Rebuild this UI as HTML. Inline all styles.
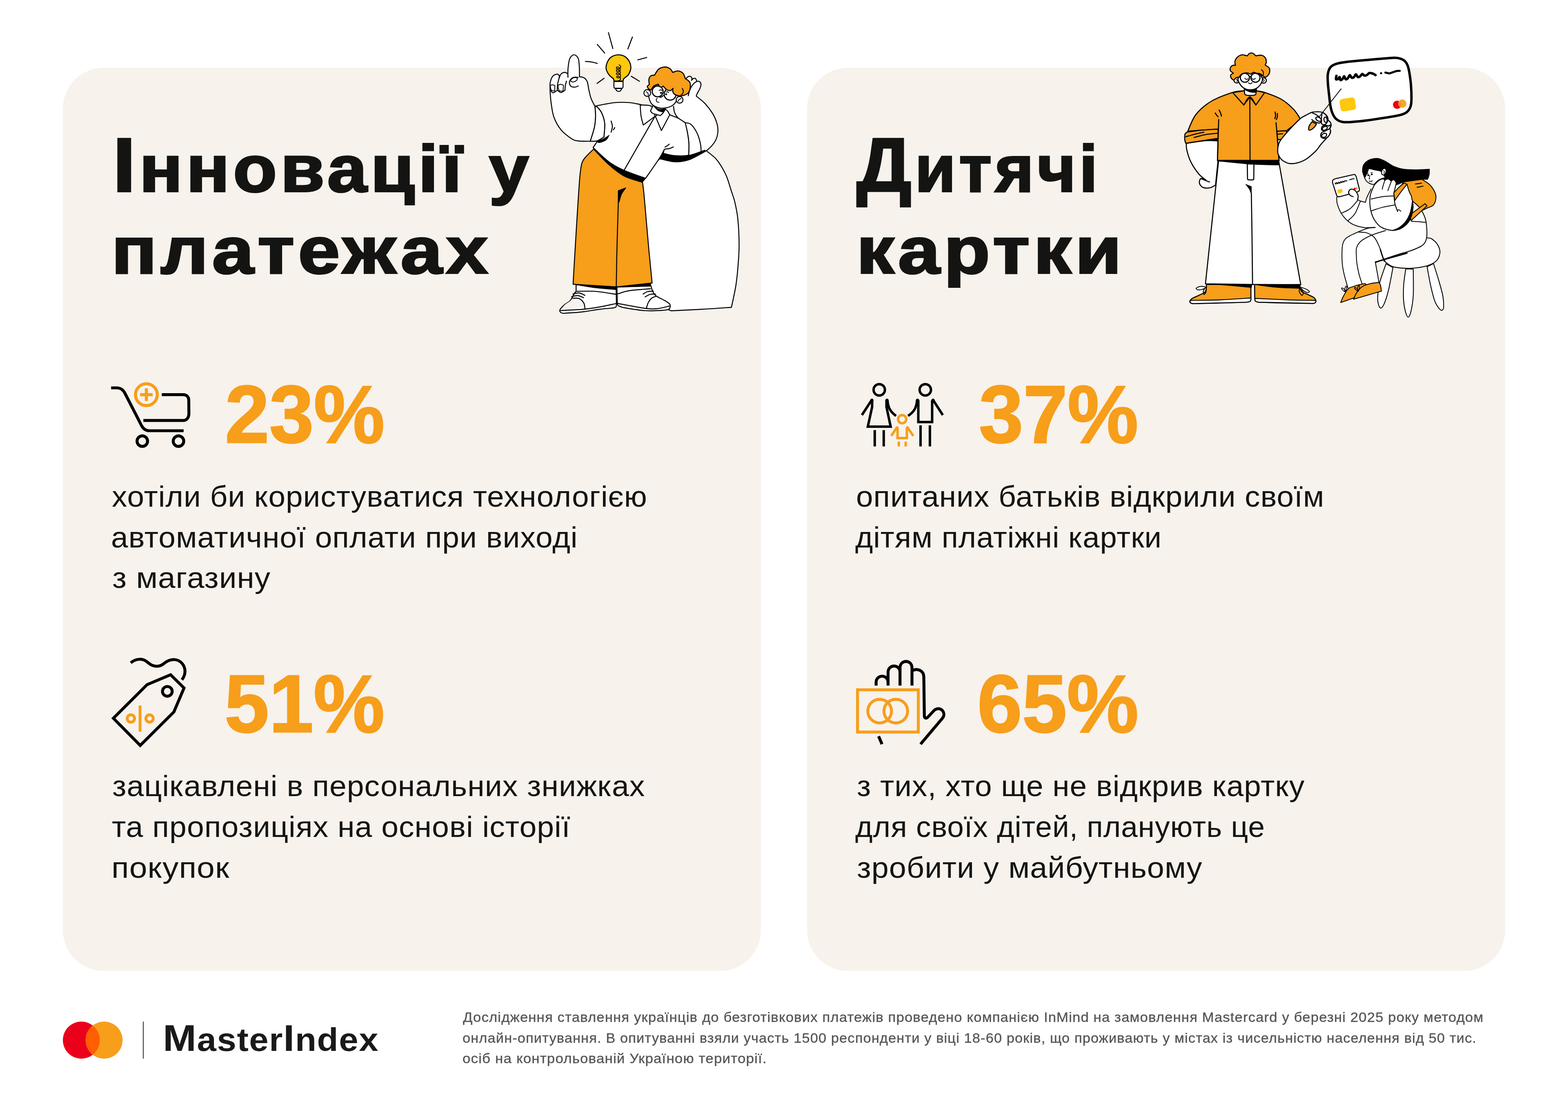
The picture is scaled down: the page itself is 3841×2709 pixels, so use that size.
<!DOCTYPE html>
<html lang="uk">
<head>
<meta charset="utf-8">
<title>MasterIndex — Інновації у платежах / Дитячі картки</title>
<style>
html,body{margin:0;padding:0;background:#fff;}
body{width:3841px;height:2709px;overflow:hidden;}
#page{position:relative;width:3841px;height:2709px;background:#fff;overflow:hidden;font-family:"Liberation Sans",sans-serif;}
.panel{position:absolute;top:166px;width:1710px;height:2212px;border-radius:100px;background:#f7f2ec;}
#p1{left:154px;}
#p2{left:1977px;}
.t{font-family:"Liberation Sans",sans-serif;position:absolute;white-space:nowrap;line-height:1;transform-origin:0 50%;color:#141413;margin:0;}
.h{font-weight:700;-webkit-text-stroke:4px #141413;paint-order:stroke fill;letter-spacing:8px;}
.hc::first-letter{font-size:1.16em;line-height:0;}
.n{font-weight:700;color:#f79e1b;-webkit-text-stroke:3px #f79e1b;}
.b{font-weight:400;letter-spacing:1px;}
.f{font-weight:400;color:#565656;letter-spacing:1.1px;-webkit-text-stroke:0.45px #565656;}
.m{font-weight:700;color:#1a1a19;letter-spacing:1.5px;}
.w{display:inline-block;}
.w::first-letter{font-size:1.155em;line-height:0;}
svg{position:absolute;overflow:visible;}

</style>
</head>
<body>
<div id="page">
<div class="panel" id="p1"></div>
<div class="panel" id="p2"></div>
<div class="t h hc" style="left:276.1px;top:331.7px;font-size:162px;transform:scaleX(1.0849);">Інновації у</div>
<div class="t h" style="left:273.3px;top:531.6px;font-size:162px;transform:scaleX(1.1368);">платежах</div>
<div class="t h hc" style="left:2098.0px;top:331.7px;font-size:162px;transform:scaleX(1.0076);">Дитячі</div>
<div class="t h" style="left:2097.7px;top:531.6px;font-size:162px;transform:scaleX(1.1433);">картки</div>
<div class="t n" style="left:550.9px;top:915.2px;font-size:200px;transform:scaleX(0.9776);">23%</div>
<div class="t n" style="left:550.1px;top:1623.8px;font-size:200px;transform:scaleX(0.9796);">51%</div>
<div class="t n" style="left:2398.4px;top:915.2px;font-size:200px;transform:scaleX(0.9759);">37%</div>
<div class="t n" style="left:2393.8px;top:1623.8px;font-size:200px;transform:scaleX(0.9872);">65%</div>
<div class="t b" style="left:274.0px;top:1179.2px;font-size:73px;transform:scaleX(1.0235);">хотіли би користуватися технологією</div>
<div class="t b" style="left:271.9px;top:1278.5px;font-size:73px;transform:scaleX(1.0262);">автоматичної оплати при виході</div>
<div class="t b" style="left:274.9px;top:1378.2px;font-size:73px;transform:scaleX(1.0477);">з магазину</div>
<div class="t b" style="left:274.7px;top:1888.2px;font-size:73px;transform:scaleX(1.0290);">зацікавлені в персональних знижках</div>
<div class="t b" style="left:274.0px;top:1987.7px;font-size:73px;transform:scaleX(1.0294);">та пропозиціях на основі історії</div>
<div class="t b" style="left:272.6px;top:2087.7px;font-size:73px;transform:scaleX(1.0782);">покупок</div>
<div class="t b" style="left:2096.7px;top:1179.2px;font-size:73px;transform:scaleX(1.0236);">опитаних батьків відкрили своїм</div>
<div class="t b" style="left:2095.0px;top:1278.5px;font-size:73px;transform:scaleX(1.0164);">дітям платіжні картки</div>
<div class="t b" style="left:2099.0px;top:1888.2px;font-size:73px;transform:scaleX(1.0234);">з тих, хто ще не відкрив картку</div>
<div class="t b" style="left:2095.0px;top:1987.7px;font-size:73px;transform:scaleX(0.9995);">для своїх дітей, планують це</div>
<div class="t b" style="left:2098.9px;top:2087.7px;font-size:73px;transform:scaleX(1.0353);">зробити у майбутньому</div>
<div class="t m" style="left:398.8px;top:2507.1px;font-size:79px;transform:scaleX(1.0774);"><span class="w">Master</span><span class="w">Index</span></div>
<div class="t f" style="left:1134.0px;top:2473.5px;font-size:34px;transform:scaleX(1.0211);">Дослідження ставлення українців до безготівкових платежів проведено компанією InMind на замовлення Mastercard у березні 2025 року методом</div>
<div class="t f" style="left:1133.0px;top:2524.5px;font-size:34px;transform:scaleX(1.0120);">онлайн-опитування. В опитуванні взяли участь 1500 респонденти у віці 18-60 років, що проживають у містах із чисельністю населення від 50 тис.</div>
<div class="t f" style="left:1133.0px;top:2575.4px;font-size:34px;transform:scaleX(1.0278);">осіб на контрольованій Україною території.</div>
<svg id="icons" width="3841" height="2709" viewBox="0 0 3841 2709" style="left:0;top:0">
<g fill="none" stroke="#000" stroke-width="7.2" stroke-linejoin="round">
<path d="M272.2,950.0L285.1,950.0C295.4,950.0 301.3,954.1 306.7,964.5L346.4,1041.8C350.9,1050.8 356.7,1055.0 366.3,1055.0L449.8,1055.0"/>
<path d="M396.3,966.7L448.5,966.7C457.2,966.7 462.4,972.5 462.4,980.6L462.7,1012.8C462.7,1023.1 457.2,1029.9 448.5,1029.9L351.2,1029.9"/>
<circle cx="348.6" cy="1080.5" r="12.9" />
<circle cx="437.2" cy="1080.5" r="12.9" />
</g>
<g fill="none" stroke="#f79e1b" stroke-width="7.6">
<circle cx="358.6" cy="966.7" r="26.7" />
<path d="M343.1,966.7L374.1,966.7M358.6,951.2L358.6,982.2"/>
</g>
<g fill="none" stroke="#000" stroke-width="7.2" stroke-linejoin="miter">
<path d="M417.9,1652.8L450.8,1685.1L426.0,1743.7L343.5,1825.9L277.7,1759.2L360.2,1677.0Z"/>
<circle cx="409.9" cy="1693.4" r="11.9" />
<path d="M320.3,1623.5C334.1,1611.9 350.2,1611.9 362.5,1622.9C373.4,1633.2 388.9,1635.1 400.5,1626.1C414.7,1613.2 434.0,1611.3 445.9,1624.8C455.9,1636.7 455.3,1652.8 445.6,1665.1"/>
</g>
<g fill="none" stroke="#f79e1b" stroke-width="7">
<circle cx="320.6" cy="1759.8" r="9.0" />
<circle cx="366.3" cy="1759.8" r="9.0" />
<path d="M343.1,1727.9L343.1,1792.1"/>
</g>
<g fill="none" stroke="#000" stroke-width="6" stroke-linejoin="miter">
<circle cx="2153.8" cy="954.8" r="13.9" />
<circle cx="2266.6" cy="954.8" r="13.9" />
<path d="M2136.4,980.6L2136.4,996.7L2125.8,1045.0L2181.8,1045.0L2171.5,996.7L2171.5,980.6"/>
<path d="M2134.8,980.6L2111.3,1016.7"/>
<path d="M2174.1,980.6C2175.4,999.9 2182.5,1009.6 2195.0,1018.6"/>
<path d="M2142.8,1053.4L2142.8,1093.4M2164.8,1053.4L2164.8,1093.4"/>
<path d="M2249.5,980.6L2249.5,1033.7L2283.4,1033.7L2283.4,980.6"/>
<path d="M2246.3,980.6C2245.0,999.9 2237.9,1009.6 2224.4,1018.6"/>
<path d="M2286.3,980.6L2309.5,1016.7"/>
<path d="M2255.0,1041.8L2255.0,1093.4M2277.9,1041.8L2277.9,1093.4"/>
</g>
<g fill="#000">
<circle cx="2135.8" cy="980.6" r="4.2" />
<circle cx="2172.8" cy="980.6" r="4.2" />
<circle cx="2247.6" cy="980.6" r="4.2" />
<circle cx="2285.6" cy="980.6" r="4.2" />
</g>
<g fill="none" stroke="#f79e1b" stroke-width="6" stroke-linejoin="miter">
<circle cx="2209.9" cy="1026.7" r="10.0" />
<path d="M2198.6,1047.6L2198.6,1073.1L2221.5,1073.1L2221.5,1047.6"/>
<path d="M2196.7,1047.6L2183.1,1067.6"/>
<path d="M2223.4,1047.6L2237.3,1067.6"/>
<path d="M2201.8,1081.8L2201.8,1093.4M2218.6,1081.8L2218.6,1093.4"/>
</g>
<g fill="#f79e1b">
<circle cx="2197.3" cy="1047.6" r="3.5" />
<circle cx="2222.8" cy="1047.6" r="3.5" />
</g>
<g fill="none" stroke="#000" stroke-width="7.2" stroke-linejoin="round">
<path d="M2146.1,1679.3L2146.1,1671.5C2146.1,1651.2 2175.4,1651.2 2175.4,1671.5L2175.4,1679.3M2175.4,1671.5L2175.4,1647.0C2175.4,1626.1 2204.7,1626.1 2204.7,1647.0L2204.7,1679.3M2204.7,1647.0L2204.7,1635.8C2204.7,1614.8 2234.0,1614.8 2234.0,1635.8L2234.0,1679.3M2234.0,1643.2C2247.6,1635.1 2263.0,1643.2 2263.0,1658.3L2264.3,1752.7C2264.3,1759.2 2268.5,1760.8 2272.7,1756.6L2286.3,1742.1C2294.3,1733.4 2304.0,1734.4 2309.5,1741.5C2313.6,1747.3 2312.7,1754.4 2308.2,1759.8L2255.0,1822.7"/>
<path d="M2152.2,1803.3L2160.6,1822.7"/>
</g>
<g fill="none" stroke="#f79e1b" stroke-width="7.2">
<rect x="2100.6" y="1689.6" width="148.9" height="103.4"/>
<circle cx="2154.8" cy="1741.8" r="29.0" />
<circle cx="2194.4" cy="1741.8" r="29.0" />
</g>
</svg>
<svg id="mc" width="3841" height="2709" viewBox="0 0 3841 2709" style="left:0;top:0">
<circle cx="199.3" cy="2547.6" r="45.3" fill="#eb001b"/>
<circle cx="255" cy="2547.6" r="45.3" fill="#f79e1b"/>
<path d="M227.15,2511.9 A45.3,45.3 0 0 1 227.15,2583.3 A45.3,45.3 0 0 1 227.15,2511.9Z" fill="#ff5f00"/>
<rect x="350" y="2502.3" width="1.8" height="90.6" fill="#1a1a19"/>
</svg>

<svg id="illu1" width="3841" height="2709" viewBox="0 0 3841 2709" style="left:0;top:0">
<path d="M1575.0,735.0L1644.0,761.2C1656.7,760.6 1695.4,758.9 1720.0,757.5C1744.6,756.1 1779.8,753.5 1791.7,752.7C1793.5,743.9 1799.8,717.1 1802.5,700.0C1805.2,682.9 1806.7,666.7 1808.0,650.0C1809.3,633.3 1810.6,618.9 1810.5,600.0C1810.4,581.1 1809.2,554.1 1807.4,536.6C1805.7,519.1 1802.7,506.6 1800.0,495.0C1797.3,483.4 1794.9,478.2 1791.2,467.0C1787.5,455.8 1784.0,440.7 1778.0,428.0C1772.0,415.3 1763.6,400.9 1755.5,391.0C1747.4,381.1 1733.9,372.6 1729.6,368.9L1680.0,378.0L1622.0,384.0L1550.0,445.0L1575.0,735.0Z" fill="#fff" stroke="#000" stroke-width="2.4" stroke-linecap="round" stroke-linejoin="round" />
<path d="M1677.1,198.8C1678.0,197.4 1680.2,192.4 1682.3,190.4C1684.4,188.4 1687.6,186.6 1689.7,186.7C1691.8,186.9 1694.2,189.6 1694.9,191.3C1695.6,193.0 1694.0,196.0 1693.8,196.9C1694.5,196.2 1696.4,193.4 1698.0,192.6C1699.7,191.9 1702.2,191.4 1703.6,192.3C1705.0,193.1 1705.9,196.9 1706.4,197.8C1705.5,200.9 1704.2,212.0 1700.8,216.4C1697.4,220.7 1688.5,222.5 1686.0,223.8Z" fill="#fff" stroke="#000" stroke-width="2.4" stroke-linecap="round" stroke-linejoin="round" />
<path d="M1686.0,234.5C1686.6,232.1 1687.9,224.6 1689.7,220.1C1691.6,215.6 1694.3,210.9 1697.1,207.5C1699.9,204.1 1703.6,200.9 1706.4,199.7C1709.2,198.4 1712.0,198.9 1713.8,200.0C1715.6,201.2 1717.0,204.0 1717.1,206.7C1717.3,209.4 1716.5,212.2 1714.7,216.4C1713.0,220.5 1708.2,228.3 1706.8,231.6C1705.3,234.8 1706.1,235.1 1706.0,235.8C1709.5,238.7 1720.2,246.5 1726.8,253.4C1733.3,260.4 1740.4,269.5 1745.3,277.5C1750.2,285.5 1753.8,294.2 1756.0,301.6C1758.3,309.0 1759.2,314.9 1758.6,322.0C1758.1,329.1 1756.5,337.1 1752.7,344.2C1748.9,351.3 1741.9,359.3 1736.0,364.6C1730.2,369.9 1720.6,374.3 1717.5,376.3L1687.9,381.3C1687.8,376.3 1688.2,361.2 1687.5,351.6C1686.8,342.1 1685.3,332.3 1683.8,323.8C1682.3,315.3 1679.5,304.5 1678.6,300.7C1675.7,298.7 1665.3,292.8 1661.0,288.6C1656.7,284.5 1654.5,280.3 1652.6,275.7C1650.8,271.0 1650.3,263.3 1649.9,260.8C1653.4,257.4 1665.2,244.8 1671.2,240.4C1677.2,236.1 1683.5,235.5 1686.0,234.5Z" fill="#fff" stroke="none" />
<path d="M1686.0,234.5C1686.6,232.1 1687.9,224.6 1689.7,220.1C1691.6,215.6 1694.3,210.9 1697.1,207.5C1699.9,204.1 1703.6,200.9 1706.4,199.7C1709.2,198.4 1712.0,198.9 1713.8,200.0C1715.6,201.2 1717.0,204.0 1717.1,206.7C1717.3,209.4 1716.5,212.2 1714.7,216.4C1713.0,220.5 1708.2,228.3 1706.8,231.6C1705.3,234.8 1706.1,235.1 1706.0,235.8C1709.5,238.7 1720.2,246.5 1726.8,253.4C1733.3,260.4 1740.4,269.5 1745.3,277.5C1750.2,285.5 1753.8,294.2 1756.0,301.6C1758.3,309.0 1759.2,314.9 1758.6,322.0C1758.1,329.1 1756.5,337.1 1752.7,344.2C1748.9,351.3 1741.9,359.3 1736.0,364.6C1730.2,369.9 1720.6,374.3 1717.5,376.3" fill="none" stroke="#000" stroke-width="2.4" stroke-linecap="round" stroke-linejoin="round" />
<path d="M1678.6,300.7C1675.7,298.7 1665.3,292.8 1661.0,288.6C1656.7,284.5 1654.5,280.3 1652.6,275.7C1650.8,271.0 1650.3,263.3 1649.9,260.8" fill="none" stroke="#000" stroke-width="2.4" stroke-linecap="round" stroke-linejoin="round" />
<path d="M1676.7,300.1C1677.9,304.1 1682.0,315.2 1683.8,323.8C1685.6,332.4 1687.0,342.2 1687.5,351.6C1688.0,361.0 1687.0,375.6 1686.9,380.3" fill="none" stroke="#000" stroke-width="2.4" stroke-linecap="round" stroke-linejoin="round" />
<path d="M1680.4,300.7C1682.6,301.4 1688.8,300.8 1693.4,305.3C1698.0,309.8 1704.5,319.5 1708.2,327.5C1712.0,335.6 1714.5,345.6 1716.0,353.5C1717.6,361.4 1717.3,371.2 1717.5,374.8" fill="none" stroke="#000" stroke-width="2.4" stroke-linecap="round" stroke-linejoin="round" />
<path d="M1411.2,697.2L1411.2,713.6C1410.7,714.2 1409.4,715.3 1407.9,717.5C1406.5,719.7 1404.7,723.4 1402.7,726.6C1400.8,729.9 1399.5,733.8 1396.2,737.1C1392.9,740.4 1386.9,743.1 1383.1,746.2C1379.3,749.4 1375.3,753.5 1373.3,756.0C1371.3,758.5 1371.0,759.7 1371.1,761.3C1371.2,762.9 1372.4,764.6 1373.7,765.6C1375.1,766.6 1378.3,767.1 1379.2,767.4C1383.6,767.1 1396.6,766.5 1405.3,765.8C1414.0,765.1 1420.6,764.6 1431.5,763.2C1442.4,761.8 1458.9,758.8 1470.7,757.3C1482.4,755.9 1496.8,754.8 1502.0,754.3C1503.1,754.0 1507.2,753.5 1508.6,752.1C1509.9,750.8 1509.9,747.2 1510.1,746.2L1509.2,703.1Z" fill="#fff" stroke="#000" stroke-width="2.4" stroke-linecap="round" stroke-linejoin="round" />
<path d="M1373.3,760.6C1375.0,758.3 1379.3,750.7 1383.1,746.9C1386.9,743.1 1392.9,740.5 1396.2,737.7C1399.5,735.0 1401.6,731.8 1402.7,730.6C1405.3,730.7 1413.8,729.3 1418.4,731.2C1423.0,733.2 1427.7,738.0 1430.2,742.3C1432.6,746.7 1432.6,754.8 1433.0,757.3C1428.4,757.8 1415.3,759.4 1405.3,760.0C1395.4,760.5 1378.7,760.5 1373.3,760.6Z" fill="#f7f2ec" stroke="none" />
<path d="M1372.7,760.3C1377.7,759.6 1392.7,757.7 1402.7,756.0C1412.8,754.3 1428.0,751.1 1433.0,750.2L1433.0,757.3C1428.4,757.8 1415.4,759.5 1405.3,760.0C1395.3,760.5 1378.1,760.3 1372.7,760.3Z" fill="#fff" stroke="none" />
<path d="M1402.7,730.6C1405.3,730.7 1413.8,729.3 1418.4,731.2C1423.0,733.2 1427.7,738.0 1430.2,742.3C1432.6,746.7 1432.6,754.8 1433.0,757.3" fill="none" stroke="#000" stroke-width="2.4" stroke-linecap="round" stroke-linejoin="round" />
<path d="M1411.2,713.6C1418.9,713.6 1441.4,712.4 1457.6,713.6C1473.8,714.8 1500.1,719.6 1508.6,720.8" fill="none" stroke="#000" stroke-width="2.4" stroke-linecap="round" stroke-linejoin="round" />
<path d="M1373.3,760.6C1383.0,760.1 1415.2,758.9 1431.5,757.3C1447.7,755.8 1457.8,753.8 1470.7,751.5C1483.5,749.2 1502.2,744.9 1508.6,743.6" fill="none" stroke="#000" stroke-width="2.4" stroke-linecap="round" stroke-linejoin="round" />
<path d="M1403.4,720.1C1405.9,719.7 1413.5,716.9 1418.4,717.5C1423.3,718.0 1430.4,722.4 1432.8,723.4" fill="none" stroke="#000" stroke-width="2.4" stroke-linecap="round" stroke-linejoin="round" />
<path d="M1400.1,726.6C1402.7,726.2 1410.9,723.6 1415.8,724.0C1420.7,724.5 1427.2,728.4 1429.5,729.3" fill="none" stroke="#000" stroke-width="2.4" stroke-linecap="round" stroke-linejoin="round" />
<path d="M1511.2,700.2L1512.2,744.3C1512.7,745.1 1511.9,747.6 1515.2,749.3C1518.6,750.9 1521.4,752.3 1532.3,754.3C1543.1,756.2 1565.7,759.9 1580.3,760.9C1595.0,761.9 1610.9,760.8 1620.4,760.3C1629.9,759.8 1633.9,759.2 1637.4,757.9C1641.0,756.5 1641.0,754.5 1641.5,752.3C1642.0,750.1 1642.6,747.3 1640.5,744.7C1638.3,742.0 1634.1,739.6 1628.4,736.2C1622.8,732.8 1611.4,728.2 1606.4,724.2C1601.4,720.2 1600.6,716.9 1598.4,712.2C1596.2,707.5 1594.2,698.8 1593.4,696.2L1511.2,700.2Z" fill="#fff" stroke="#000" stroke-width="2.4" stroke-linecap="round" stroke-linejoin="round" />
<path d="M1512.2,720.2C1516.9,718.9 1526.8,714.4 1540.3,712.2C1553.8,710.0 1584.5,708.0 1593.4,707.2" fill="none" stroke="#000" stroke-width="2.4" stroke-linecap="round" stroke-linejoin="round" />
<path d="M1513.2,743.2C1524.4,745.3 1564.2,753.2 1580.3,755.3C1596.5,757.4 1600.4,756.9 1610.4,755.9C1620.4,754.9 1635.4,750.4 1640.5,749.3" fill="none" stroke="#000" stroke-width="2.4" stroke-linecap="round" stroke-linejoin="round" />
<path d="M1583.4,754.7C1584.2,752.3 1586.2,744.3 1588.4,740.2C1590.5,736.2 1593.4,732.6 1596.4,730.2C1599.4,727.8 1604.7,726.6 1606.4,725.8" fill="none" stroke="#000" stroke-width="2.4" stroke-linecap="round" stroke-linejoin="round" />
<path d="M1575.3,720.2C1577.2,719.2 1582.2,715.4 1586.4,714.2C1590.5,713.0 1598.0,713.4 1600.4,713.2" fill="none" stroke="#000" stroke-width="2.4" stroke-linecap="round" stroke-linejoin="round" />
<path d="M1580.3,727.2C1582.4,726.2 1588.2,722.4 1592.4,721.2C1596.5,720.0 1603.2,720.4 1605.4,720.2" fill="none" stroke="#000" stroke-width="2.4" stroke-linecap="round" stroke-linejoin="round" />
<path d="M1454.1,365.2C1450.0,369.6 1434.8,382.3 1429.4,391.2C1424.1,400.0 1424.1,403.9 1422.0,418.4C1419.9,432.8 1418.9,451.3 1417.1,477.7C1415.2,504.0 1412.9,542.8 1410.9,576.5C1408.8,610.2 1405.8,660.1 1404.7,680.0C1403.6,699.9 1404.2,693.5 1404.0,696.2L1508.2,702.6L1510.6,702.6L1597.4,693.2C1595.9,677.6 1591.6,635.9 1588.4,600.0C1585.1,564.1 1580.3,504.6 1577.7,477.7C1575.0,450.7 1573.5,444.7 1572.7,438.1C1565.3,434.6 1541.8,424.1 1528.2,417.1C1514.7,410.1 1503.5,404.8 1491.2,396.1C1478.8,387.5 1460.3,370.4 1454.1,365.2Z" fill="#f79e1b" stroke="#000" stroke-width="2.4" stroke-linecap="round" stroke-linejoin="round" />
<path d="M1515.4,467.8C1515.1,477.7 1514.4,500.7 1513.7,527.1C1512.9,553.4 1511.6,596.7 1510.9,625.9C1510.3,655.1 1509.8,689.5 1509.6,702.2" fill="none" stroke="#000" stroke-width="2.4" stroke-linecap="round" stroke-linejoin="round" />
<path d="M1514.4,467.0L1533.2,459.9C1531.5,462.4 1525.6,469.3 1522.8,475.2C1520.0,481.0 1517.7,491.7 1516.6,494.9L1514.4,494.9Z" fill="#000" stroke="#000" stroke-width="1.5" stroke-linecap="round" stroke-linejoin="round" />
<path d="M1411.2,697.5L1508.8,702.1L1508.8,709.7C1500.3,708.9 1473.9,707.1 1457.6,705.1C1441.3,703.1 1418.9,698.8 1411.2,697.5Z" fill="#000" stroke="#000" stroke-width="1" stroke-linecap="round" stroke-linejoin="round" />
<path d="M1511.2,702.6L1592.8,694.6L1593.4,701.2L1511.2,703.8Z" fill="#000" stroke="#000" stroke-width="1" stroke-linecap="round" stroke-linejoin="round" />
<path d="M1454.1,365.2C1460.3,370.4 1478.8,387.5 1491.2,396.1C1503.5,404.8 1513.2,410.3 1528.2,417.1C1543.3,423.9 1572.5,433.6 1581.4,436.9L1573.2,447.0C1565.7,444.4 1541.9,438.5 1528.2,431.2C1514.6,424.0 1503.5,414.4 1491.2,403.5C1478.8,392.6 1460.3,372.0 1454.1,365.7Z" fill="#000" stroke="#000" stroke-width="1.5" stroke-linecap="round" stroke-linejoin="round" />
<path d="M1458.0,259.7C1465.9,258.4 1491.2,252.8 1505.3,251.4C1519.4,250.0 1531.9,250.6 1542.4,251.4C1552.9,252.2 1559.0,254.0 1568.3,256.0C1577.6,258.0 1593.0,262.2 1597.9,263.4L1640.6,281.2C1644.0,282.6 1654.7,286.3 1661.0,289.5C1667.3,292.8 1675.7,298.8 1678.6,300.7C1679.5,304.5 1682.3,315.3 1683.8,323.8C1685.3,332.3 1687.0,342.2 1687.5,351.6C1688.0,361.0 1687.0,375.6 1686.9,380.3L1651.8,387.5L1623.4,380.1L1627.1,366.5C1625.0,370.2 1622.3,377.0 1614.7,388.7C1607.1,400.4 1586.9,428.9 1581.4,436.9C1572.5,433.6 1543.3,423.9 1528.2,417.1C1513.2,410.3 1503.7,405.4 1491.2,396.1C1478.6,386.9 1459.3,367.3 1452.9,361.5L1462.7,346.8L1479.4,335.7C1479.7,330.2 1482.1,312.2 1481.2,302.4C1480.3,292.5 1476.9,283.2 1473.8,276.4C1470.7,269.6 1465.3,264.4 1462.7,261.6C1460.1,258.8 1458.8,260.0 1458.0,259.7Z" fill="#fff" stroke="#000" stroke-width="2.4" stroke-linecap="round" stroke-linejoin="round" />
<path d="M1624.6,375.1C1629.1,376.1 1641.1,380.0 1651.8,380.8C1662.5,381.6 1676.5,382.2 1688.8,380.1C1701.2,377.9 1719.7,369.8 1725.9,367.7L1729.1,370.2C1722.4,373.7 1701.7,386.8 1688.8,391.2C1675.9,395.6 1664.1,397.0 1651.8,396.6C1639.4,396.2 1620.9,390.0 1614.7,388.7L1624.6,375.1Z" fill="#000" stroke="#000" stroke-width="1.5" stroke-linecap="round" stroke-linejoin="round" />
<path d="M1604.5,284.9L1529.5,415.9" fill="none" stroke="#000" stroke-width="2.4" stroke-linecap="round" stroke-linejoin="round" />
<path d="M1629.0,360.3C1629.9,359.8 1632.7,358.3 1634.5,357.1C1636.2,355.9 1638.6,353.8 1639.4,353.1" fill="none" stroke="#000" stroke-width="2.4" stroke-linecap="round" stroke-linejoin="round" />
<path d="M1628.3,365.2C1630.2,365.0 1635.9,364.9 1639.4,364.0C1642.9,363.1 1647.7,360.5 1649.3,359.8" fill="none" stroke="#000" stroke-width="2.4" stroke-linecap="round" stroke-linejoin="round" />
<path d="M1497.0,296.4C1497.5,298.7 1500.1,305.2 1500.1,309.8C1500.1,314.3 1497.5,321.4 1497.0,323.7" fill="none" stroke="#000" stroke-width="2.4" stroke-linecap="round" stroke-linejoin="round" />
<path d="M1502.5,318.1L1505.9,312.6" fill="none" stroke="#000" stroke-width="2.4" stroke-linecap="round" stroke-linejoin="round" />
<path d="M1457.5,260.7C1455.9,257.4 1450.4,248.2 1447.9,241.2C1445.3,234.3 1443.8,225.8 1442.3,219.0C1440.8,212.2 1440.4,205.1 1438.6,200.4C1436.7,195.8 1434.4,192.9 1431.2,190.8C1428.0,188.7 1421.5,188.3 1419.5,187.8C1419.4,183.8 1419.7,170.9 1419.1,163.4C1418.6,155.9 1418.5,147.9 1416.4,143.0C1414.2,138.1 1409.6,134.1 1406.2,134.1C1402.8,134.1 1398.4,138.1 1396.0,143.0C1393.6,147.9 1392.7,157.1 1391.9,163.4C1391.1,169.7 1391.1,178.1 1391.0,181.0C1389.8,180.4 1386.6,177.3 1383.9,177.3C1381.2,177.3 1377.0,178.7 1374.7,181.0C1372.3,183.3 1370.5,189.5 1369.7,191.2L1370.0,184.7C1369.1,184.2 1367.3,181.1 1364.5,181.5C1361.7,182.0 1356.1,184.0 1353.4,187.5C1350.6,190.9 1348.8,198.0 1347.8,202.3C1346.8,206.6 1347.5,211.6 1347.4,213.4C1347.5,215.9 1347.3,221.1 1347.8,228.2C1348.3,235.3 1349.0,246.2 1350.6,256.0C1352.1,265.9 1353.2,277.3 1357.1,287.5C1360.9,297.7 1366.6,308.5 1373.7,317.2C1380.8,325.8 1392.6,334.7 1399.7,339.4C1406.8,344.1 1408.6,344.3 1416.4,345.3C1424.1,346.4 1441.1,345.8 1446.0,345.9C1447.7,340.2 1454.0,322.0 1456.2,311.6C1458.4,301.3 1458.8,292.3 1459.0,283.8C1459.2,275.3 1457.7,264.5 1457.5,260.7Z" fill="#fff" stroke="#000" stroke-width="2.4" stroke-linecap="round" stroke-linejoin="round" />
<path d="M1457.5,260.7C1457.7,264.5 1459.2,275.3 1459.0,283.8C1458.8,292.3 1458.4,301.3 1456.2,311.6C1454.0,322.0 1447.7,340.2 1446.0,345.9C1448.8,345.8 1457.1,346.7 1462.7,345.0C1468.2,343.3 1476.6,337.3 1479.4,335.7C1479.7,330.2 1482.1,312.2 1481.2,302.4C1480.3,292.5 1476.9,283.2 1473.8,276.4C1470.7,269.6 1464.5,264.1 1462.7,261.6L1457.5,260.7Z" fill="#fff" stroke="#000" stroke-width="2.4" stroke-linecap="round" stroke-linejoin="round" />
<path d="M1461.8,346.5C1464.4,345.4 1472.3,343.0 1477.5,340.3C1482.7,337.7 1490.2,332.2 1492.7,330.5C1491.4,332.6 1489.0,339.9 1484.9,343.1C1480.8,346.3 1472.1,349.1 1468.2,349.6C1464.4,350.2 1462.8,347.0 1461.8,346.5Z" fill="#000" stroke="#000" stroke-width="1" stroke-linecap="round" stroke-linejoin="round" />
<path d="M1391.0,180.1L1391.3,189.3" fill="none" stroke="#000" stroke-width="2.4" stroke-linecap="round" stroke-linejoin="round" />
<path d="M1369.7,191.2C1369.0,193.7 1366.7,201.1 1366.0,206.0C1365.2,210.9 1365.2,218.4 1365.0,220.8" fill="none" stroke="#000" stroke-width="2.4" stroke-linecap="round" stroke-linejoin="round" />
<path d="M1387.6,198.6C1387.2,200.4 1385.5,206.0 1384.9,209.7C1384.2,213.4 1384.1,219.0 1383.9,220.8" fill="none" stroke="#000" stroke-width="2.4" stroke-linecap="round" stroke-linejoin="round" />
<path d="M1347.8,209.7C1348.7,209.3 1351.4,207.5 1353.4,207.5C1355.3,207.5 1358.3,209.3 1359.3,209.7L1358.9,222.7C1357.5,222.4 1352.4,223.0 1350.6,220.8C1348.7,218.7 1348.3,211.6 1347.8,209.7Z" fill="#fff" stroke="#000" stroke-width="2" stroke-linecap="round" stroke-linejoin="round" />
<path d="M1366.7,208.8C1367.9,208.4 1371.5,206.6 1373.7,206.6C1376.0,206.6 1379.1,208.4 1380.2,208.8L1379.3,223.1C1377.7,222.8 1371.8,224.1 1369.7,221.8C1367.6,219.4 1367.2,210.9 1366.7,208.8Z" fill="#fff" stroke="#000" stroke-width="2" stroke-linecap="round" stroke-linejoin="round" />
<path d="M1347.8,219.9C1348.9,221.1 1351.7,226.9 1354.3,227.3C1356.9,227.7 1362.0,223.1 1363.5,222.3" fill="none" stroke="#000" stroke-width="2.4" stroke-linecap="round" stroke-linejoin="round" />
<path d="M1366.3,221.8C1367.7,222.6 1371.7,226.9 1374.7,226.8C1377.6,226.6 1382.4,221.8 1383.9,220.8" fill="none" stroke="#000" stroke-width="2.4" stroke-linecap="round" stroke-linejoin="round" />
<path d="M1416.4,189.7C1414.5,189.6 1408.5,188.3 1405.2,189.3C1402.0,190.3 1398.6,193.3 1396.9,195.8C1395.2,198.3 1394.6,201.5 1395.0,204.2C1395.5,206.8 1397.4,210.4 1399.7,211.9C1402.0,213.5 1406.2,213.6 1408.9,213.4C1411.7,213.2 1415.1,211.1 1416.4,210.6" fill="#fff" stroke="#000" stroke-width="2.4" stroke-linecap="round" stroke-linejoin="round" />
<ellipse cx="1406.2" cy="195.3" rx="8.5" ry="4.8" transform="rotate(-22 1406.2 195.3)" fill="#fff" stroke="#000" stroke-width="2"/>
<path d="M1568.3,257.1C1568.6,261.4 1569.0,274.9 1570.2,283.1C1571.4,291.2 1574.8,302.4 1575.8,306.2L1604.5,284.9C1603.2,280.9 1603.1,265.5 1597.1,260.8C1591.0,256.2 1573.1,257.7 1568.3,257.1Z" fill="#fff" stroke="#000" stroke-width="2.4" stroke-linecap="round" stroke-linejoin="round" />
<path d="M1605.4,284.9L1620.2,319.8L1640.6,281.2C1638.8,279.0 1635.4,267.6 1629.5,268.2C1623.6,268.9 1609.4,282.1 1605.4,284.9Z" fill="#fff" stroke="#000" stroke-width="2.4" stroke-linecap="round" stroke-linejoin="round" />
<path d="M1599.8,258.0L1593.4,271.9C1594.3,272.9 1594.9,275.7 1598.9,277.5C1602.9,279.4 1614.4,282.1 1617.4,283.1C1618.7,281.8 1622.8,278.4 1624.9,275.7C1627.0,272.9 1629.2,267.9 1630.0,266.4L1599.8,258.0Z" fill="#fff" stroke="#000" stroke-width="2.4" stroke-linecap="round" stroke-linejoin="round" />
<path d="M1599.8,258.6C1602.2,260.0 1608.7,265.5 1613.7,266.8C1618.8,268.1 1627.3,266.4 1630.0,266.4L1625.2,274.9C1623.0,274.3 1616.1,273.7 1611.9,271.0C1607.7,268.3 1601.8,260.7 1599.8,258.6Z" fill="#000" stroke="#000" stroke-width="1" stroke-linecap="round" stroke-linejoin="round" />
<path d="M1590.6,223.8C1587.8,230.3 1588.6,233.3 1589.6,238.6C1590.7,243.8 1592.7,250.9 1597.1,255.3C1601.4,259.6 1609.4,263.1 1615.6,264.5C1621.8,265.9 1628.6,264.8 1634.1,263.6C1639.7,262.4 1645.1,260.1 1648.9,257.1C1652.8,254.2 1654.8,251.6 1657.3,246.0C1659.8,240.4 1666.1,231.5 1663.8,223.8C1661.5,216.0 1653.0,203.7 1643.4,199.7C1633.8,195.7 1615.1,195.7 1606.3,199.7C1597.5,203.7 1593.4,217.3 1590.6,223.8Z" fill="#fff" stroke="#000" stroke-width="2.4" stroke-linecap="round" stroke-linejoin="round" />
<circle cx="1585.6" cy="227.8" r="8.3" fill="#fff" stroke="#000" stroke-width="2.4"/>
<circle cx="1664.7" cy="244.5" r="8.3" fill="#fff" stroke="#000" stroke-width="2.4"/>
<path d="M1583.2,224.7C1583.9,225.3 1586.7,227.0 1587.4,228.4C1588.2,229.8 1587.7,232.3 1587.8,233.0" fill="none" stroke="#000" stroke-width="2" stroke-linecap="round" stroke-linejoin="round" />
<path d="M1661.0,247.9C1661.5,247.2 1662.5,244.9 1663.8,243.8C1665.0,242.7 1667.6,241.8 1668.4,241.4" fill="none" stroke="#000" stroke-width="2" stroke-linecap="round" stroke-linejoin="round" />
<circle cx="1611.0" cy="223.8" r="13.3" fill="#fff" stroke="#000" stroke-width="2.8"/>
<circle cx="1641.5" cy="230.8" r="14.5" fill="#fff" stroke="#000" stroke-width="2.8"/>
<path d="M1616.5,238.6C1617.3,238.3 1619.8,237.9 1621.1,237.1C1622.5,236.3 1624.2,234.5 1624.9,234.0" fill="none" stroke="#000" stroke-width="2.4" stroke-linecap="round" stroke-linejoin="round" />
<circle cx="1619.3" cy="227.5" r="2.4" fill="#000" stroke="none"/>
<circle cx="1631.9" cy="230.8" r="2.4" fill="#000" stroke="none"/>
<path d="M1614.7,221.5C1615.3,221.3 1617.1,220.1 1618.4,220.1C1619.6,220.1 1621.5,221.3 1622.1,221.5" fill="none" stroke="#000" stroke-width="2" stroke-linecap="round" stroke-linejoin="round" />
<path d="M1631.9,225.3C1632.4,225.2 1634.1,224.5 1635.0,224.7C1636.0,224.9 1637.4,226.2 1637.8,226.5" fill="none" stroke="#000" stroke-width="2" stroke-linecap="round" stroke-linejoin="round" />
<path d="M1609.7,240.8C1609.3,241.5 1607.2,243.6 1607.3,245.1C1607.3,246.6 1608.9,248.8 1610.0,249.7C1611.2,250.6 1613.4,250.5 1614.1,250.6" fill="none" stroke="#000" stroke-width="2" stroke-linecap="round" stroke-linejoin="round" />
<path d="M1587.8,216.4C1587.4,215.6 1585.1,213.3 1585.6,211.7C1586.0,210.2 1589.7,207.9 1590.6,207.1C1590.4,204.9 1589.0,197.7 1589.6,194.1C1590.3,190.6 1592.0,187.5 1594.3,185.8C1596.6,184.1 1602.0,184.2 1603.5,183.9C1605.2,181.5 1609.4,172.4 1613.7,169.1C1618.1,165.8 1624.9,164.2 1629.5,164.1C1634.1,164.0 1638.4,166.3 1641.5,168.5C1644.6,170.8 1646.9,176.0 1648.0,177.4C1650.0,176.8 1655.9,173.4 1660.1,173.7C1664.2,174.0 1669.9,176.2 1673.0,179.3C1676.1,182.4 1677.7,190.1 1678.6,192.3C1680.4,193.8 1687.7,197.5 1689.7,201.5C1691.7,205.5 1691.3,212.0 1690.6,216.4C1690.0,220.7 1688.5,224.6 1686.0,227.5C1683.5,230.3 1677.5,232.4 1675.8,233.4C1673.8,233.7 1667.6,235.3 1663.8,234.9C1659.9,234.5 1655.3,233.0 1652.6,231.2C1650.0,229.3 1648.7,226.2 1648.0,223.8C1647.3,221.3 1648.5,217.6 1648.6,216.4C1647.6,217.3 1644.9,221.3 1642.5,221.9C1640.0,222.5 1636.6,221.3 1634.1,220.1C1631.6,218.8 1629.2,216.0 1627.6,214.5C1626.1,213.0 1625.3,211.4 1624.9,210.8C1624.1,211.3 1621.9,213.6 1620.2,213.6C1618.5,213.6 1615.9,212.0 1614.7,210.8C1613.4,209.6 1613.1,206.9 1612.8,206.2C1611.1,206.8 1605.4,207.9 1602.6,209.9C1599.8,211.9 1597.7,216.4 1596.1,218.2C1594.6,220.1 1593.8,220.5 1593.4,221.0L1587.8,216.4Z" fill="#f79e1b" stroke="#000" stroke-width="2.6" stroke-linecap="round" stroke-linejoin="round" />
<path d="M1671.2,216.4C1671.6,217.4 1673.8,220.7 1674.0,222.8C1674.1,225.0 1673.0,227.8 1672.1,229.3C1671.2,230.9 1669.0,231.6 1668.4,232.1" fill="none" stroke="#000" stroke-width="2.2" stroke-linecap="round" stroke-linejoin="round" />
<path d="M1504.0,198.6C1503.8,197.7 1504.5,195.5 1502.5,193.0C1500.6,190.6 1495.3,187.8 1492.3,183.8C1489.4,179.8 1485.7,174.2 1484.9,168.9C1484.1,163.7 1485.5,157.2 1487.7,152.3C1489.9,147.3 1493.3,142.3 1497.9,139.3C1502.4,136.3 1509.4,134.4 1514.9,134.3C1520.5,134.2 1526.7,135.9 1531.2,138.9C1535.8,141.9 1540.0,147.4 1542.4,152.3C1544.7,157.1 1545.8,162.8 1545.1,168.0C1544.5,173.3 1541.4,179.8 1538.7,183.8C1535.9,187.8 1530.5,189.6 1528.5,192.1C1526.4,194.6 1526.6,197.5 1526.2,198.6L1504.0,198.6Z" fill="#ffc70d" stroke="#000" stroke-width="2.6" stroke-linecap="round" stroke-linejoin="round" />
<path d="M1504.0,199.5L1526.2,199.5C1526.2,201.8 1526.5,210.6 1526.1,213.4C1525.7,216.2 1524.2,215.7 1523.8,216.2L1506.2,216.2C1505.9,215.7 1504.4,216.2 1504.0,213.4C1503.6,210.6 1504.0,201.8 1504.0,199.5Z" fill="#fff" stroke="#000" stroke-width="2.4" stroke-linecap="round" stroke-linejoin="round" />
<path d="M1507.5,216.8C1508.1,217.7 1509.5,221.1 1510.9,222.3C1512.2,223.5 1513.9,223.8 1515.5,223.8C1517.0,223.8 1518.8,223.5 1520.1,222.3C1521.4,221.1 1522.7,217.7 1523.3,216.8Z" fill="#fff" stroke="#000" stroke-width="2.4" stroke-linecap="round" stroke-linejoin="round" />
<path d="M1516.8,158.8C1517.4,159.4 1520.2,161.1 1520.5,162.5C1520.8,163.8 1519.8,166.1 1518.6,167.1C1517.5,168.1 1515.1,168.6 1513.6,168.6C1512.2,168.6 1510.4,167.8 1509.9,167.1C1509.5,166.4 1509.9,164.7 1510.9,164.3C1511.8,163.9 1514.1,164.1 1515.5,164.9C1516.9,165.6 1518.7,167.5 1519.2,168.9C1519.7,170.4 1519.6,172.5 1518.6,173.6C1517.7,174.7 1515.1,175.3 1513.6,175.4C1512.2,175.5 1510.4,174.8 1509.9,174.1C1509.5,173.4 1509.9,171.6 1510.9,171.2C1511.8,170.8 1514.1,170.9 1515.5,171.7C1516.9,172.5 1518.7,174.4 1519.2,176.0C1519.7,177.5 1519.6,179.8 1518.6,181.0C1517.7,182.1 1515.1,182.7 1513.6,182.8C1512.2,182.9 1510.4,182.3 1509.9,181.5C1509.5,180.8 1509.9,179.0 1510.9,178.6C1511.8,178.2 1514.0,178.3 1515.5,179.1C1517.0,180.0 1519.1,182.1 1519.8,183.8C1520.4,185.4 1520.1,187.8 1519.2,189.0C1518.3,190.1 1516.0,190.7 1514.6,190.8C1513.2,190.9 1511.3,190.0 1510.9,189.3C1510.4,188.6 1510.9,186.9 1511.8,186.5C1512.7,186.2 1515.0,186.5 1516.4,187.5C1517.8,188.4 1519.8,190.6 1520.1,192.1C1520.4,193.6 1519.4,195.3 1518.3,196.4C1517.2,197.4 1514.4,197.9 1513.6,198.2" fill="none" stroke="#000" stroke-width="2" stroke-linecap="round" stroke-linejoin="round" />
<path d="M1490.5,80.0L1501.2,118.9" fill="none" stroke="#000" stroke-width="2.4" stroke-linecap="round" stroke-linejoin="round" />
<path d="M1463.1,108.7L1481.2,130.0" fill="none" stroke="#000" stroke-width="2.4" stroke-linecap="round" stroke-linejoin="round" />
<path d="M1549.2,90.7L1538.1,119.8" fill="none" stroke="#000" stroke-width="2.4" stroke-linecap="round" stroke-linejoin="round" />
<path d="M1562.4,146.7L1584.1,140.8" fill="none" stroke="#000" stroke-width="2.4" stroke-linecap="round" stroke-linejoin="round" />
<path d="M1462.7,204.2L1479.7,191.7" fill="none" stroke="#000" stroke-width="2.4" stroke-linecap="round" stroke-linejoin="round" />
<path d="M1546.4,186.9L1566.4,199.0" fill="none" stroke="#000" stroke-width="2.4" stroke-linecap="round" stroke-linejoin="round" />
<path d="M1434.0,150.4C1436.6,150.7 1444.9,151.1 1449.7,151.9C1454.6,152.7 1460.8,154.8 1463.1,155.4" fill="none" stroke="#000" stroke-width="2.4" stroke-linecap="round" stroke-linejoin="round" />
</svg>
<svg id="illu2" width="3841" height="2709" viewBox="0 0 3841 2709" style="left:0;top:0">
<path d="M2905.9,351.0C2906.1,353.7 2905.3,359.4 2907.2,367.1C2909.0,374.7 2912.1,386.8 2917.1,396.7C2922.0,406.6 2930.6,418.9 2936.8,426.4C2943.0,433.8 2951.2,438.7 2954.1,441.2C2952.1,440.6 2944.4,436.2 2941.8,437.5C2939.1,438.7 2937.2,445.0 2938.1,448.6C2938.9,452.2 2942.4,457.1 2946.7,459.0C2951.0,460.9 2958.9,460.9 2964.0,460.0C2969.1,459.1 2975.3,454.6 2977.6,453.5L2983.8,393.0L2983.8,337.4L2905.9,351.0Z" fill="#fff" stroke="#000" stroke-width="2.6" stroke-linecap="round" stroke-linejoin="round" />
<path d="M2941.8,437.0C2943.8,437.9 2950.6,441.0 2954.1,442.4C2957.6,443.9 2961.3,445.1 2962.8,445.6" fill="none" stroke="#000" stroke-width="2.6" stroke-linecap="round" stroke-linejoin="round" />
<path d="M2955.4,696.7C2954.9,699.6 2956.0,709.6 2952.9,714.0C2949.8,718.5 2942.2,720.6 2936.8,723.4C2931.5,726.2 2924.5,728.5 2920.8,730.8C2917.1,733.2 2915.2,735.5 2914.6,737.5C2914.0,739.4 2915.8,741.4 2917.1,742.4C2918.3,743.5 2921.2,743.5 2922.0,743.7C2935.6,743.3 2981.7,742.3 3003.5,741.7C3025.4,741.1 3044.7,740.4 3052.9,740.2C3054.5,739.9 3060.4,739.6 3062.3,738.2C3064.2,736.8 3064.0,732.9 3064.3,731.8L3064.1,696.7L2955.4,696.7Z" fill="#f79e1b" stroke="#000" stroke-width="2.6" stroke-linecap="round" stroke-linejoin="round" />
<path d="M2916.1,735.8C2928.6,735.5 2966.6,735.3 2991.2,734.3C3015.8,733.3 3051.7,730.6 3063.8,729.8C3063.9,730.2 3064.6,730.9 3064.3,732.3C3064.1,733.7 3064.2,736.9 3062.3,738.2C3060.4,739.5 3054.5,739.9 3052.9,740.2L2922.0,743.7C2921.0,743.2 2916.8,742.5 2915.8,741.2C2914.8,739.9 2916.0,736.7 2916.1,735.8Z" fill="#fff" stroke="#000" stroke-width="2.2" stroke-linecap="round" stroke-linejoin="round" />
<path d="M3183.9,696.7C3184.5,699.4 3184.7,708.9 3187.6,712.8C3190.5,716.7 3196.0,717.5 3201.2,720.2C3206.3,722.9 3214.8,726.1 3218.5,728.8C3222.2,731.6 3222.9,734.6 3223.4,736.7C3223.9,738.9 3222.5,740.6 3221.4,741.7C3220.4,742.8 3217.9,742.9 3217.2,743.2C3202.2,742.9 3149.5,742.2 3127.1,741.7C3104.6,741.2 3090.0,740.4 3082.6,740.2C3081.4,739.7 3076.7,738.9 3075.2,737.5C3073.7,736.1 3073.9,732.7 3073.7,731.8L3073.2,696.7L3183.9,696.7Z" fill="#f79e1b" stroke="#000" stroke-width="2.6" stroke-linecap="round" stroke-linejoin="round" />
<path d="M3222.9,735.8C3211.1,735.5 3176.6,735.1 3151.8,734.3C3127.0,733.4 3087.1,731.4 3074.2,730.8C3074.4,731.9 3073.8,735.9 3075.2,737.5C3076.6,739.0 3081.4,739.7 3082.6,740.2L3217.2,743.2C3218.2,742.8 3222.0,741.9 3222.9,740.7C3223.9,739.5 3222.9,736.6 3222.9,735.8Z" fill="#fff" stroke="#000" stroke-width="2.2" stroke-linecap="round" stroke-linejoin="round" />
<path d="M2954.1,704.1C2953.7,702.8 2945.7,701.0 2941.8,701.2C2937.9,701.4 2932.1,704.0 2930.6,705.4C2929.2,706.8 2930.9,708.9 2933.1,709.6C2935.4,710.2 2940.7,710.0 2944.2,709.1C2947.7,708.2 2954.5,705.4 2954.1,704.1Z" fill="none" stroke="#000" stroke-width="2" stroke-linecap="round" stroke-linejoin="round" />
<path d="M2953.6,704.1C2952.5,704.7 2948.7,709.9 2947.9,712.8C2947.2,715.7 2948.2,720.8 2949.2,721.4C2950.1,722.0 2952.7,718.5 2953.6,716.5C2954.6,714.4 2954.9,711.1 2954.9,709.1C2954.9,707.0 2954.8,703.5 2953.6,704.1Z" fill="none" stroke="#000" stroke-width="2" stroke-linecap="round" stroke-linejoin="round" />
<path d="M3185.9,704.1C3186.9,703.5 3195.1,706.2 3198.7,707.8C3202.3,709.5 3206.7,712.6 3207.4,714.0C3208.0,715.4 3204.9,716.9 3202.4,716.5C3200.0,716.1 3195.3,713.6 3192.5,711.5C3189.8,709.5 3184.8,704.7 3185.9,704.1Z" fill="none" stroke="#000" stroke-width="2" stroke-linecap="round" stroke-linejoin="round" />
<path d="M3184.4,704.1C3183.4,704.9 3181.9,710.8 3182.7,714.0C3183.4,717.2 3187.2,722.8 3188.8,723.4C3190.5,724.0 3192.5,720.1 3192.5,717.7C3192.5,715.3 3190.2,711.3 3188.8,709.1C3187.5,706.8 3185.4,703.3 3184.4,704.1Z" fill="none" stroke="#000" stroke-width="2" stroke-linecap="round" stroke-linejoin="round" />
<path d="M2985.0,393.7L2952.9,695.2L3066.5,696.7L3069.3,696.7L3186.4,697.2L3133.2,399.2L2985.0,393.7Z" fill="#fff" stroke="#000" stroke-width="2.6" stroke-linecap="round" stroke-linejoin="round" />
<path d="M3065.3,473.1C3065.5,489.0 3066.3,531.0 3066.8,568.2C3067.3,605.5 3068.0,675.3 3068.3,696.7" fill="none" stroke="#000" stroke-width="2.6" stroke-linecap="round" stroke-linejoin="round" />
<path d="M3051.7,451.6L3065.3,457.1L3065.3,474.8C3064.5,472.9 3062.6,467.1 3060.4,463.2C3058.1,459.4 3053.2,453.6 3051.7,451.6Z" fill="#000" stroke="#000" stroke-width="1.5" stroke-linecap="round" stroke-linejoin="round" />
<path d="M2955.4,695.2L3066.5,696.7L3065.8,704.6C3056.2,703.7 3026.9,700.7 3008.5,699.2C2990.1,697.6 2964.2,695.9 2955.4,695.2Z" fill="#000" stroke="#000" stroke-width="1" stroke-linecap="round" stroke-linejoin="round" />
<path d="M3072.7,697.2L3184.4,696.2L3183.4,706.6C3174.0,706.2 3145.5,705.7 3127.1,704.1C3108.6,702.6 3081.8,698.4 3072.7,697.2Z" fill="#000" stroke="#000" stroke-width="1" stroke-linecap="round" stroke-linejoin="round" />
<path d="M3055.4,401.2L3055.9,436.2C3056.2,436.9 3055.1,439.5 3057.4,440.2C3059.7,440.9 3067.4,440.9 3069.7,440.2C3072.1,439.5 3071.0,436.9 3071.2,436.2L3071.7,401.7L3055.4,401.2Z" fill="#fff" stroke="#000" stroke-width="2.6" stroke-linecap="round" stroke-linejoin="round" />
<path d="M3127.1,320.1L3150.5,318.1L3154.2,339.9L3128.3,342.4L3127.1,320.1Z" fill="#f79e1b" stroke="#000" stroke-width="2.6" stroke-linecap="round" stroke-linejoin="round" />
<path d="M3129.5,328.8L3141.9,327.5" fill="none" stroke="#000" stroke-width="2.6" stroke-linecap="round" stroke-linejoin="round" />
<path d="M2909.6,321.4C2912.9,314.6 2919.9,292.7 2929.4,280.6C2938.9,268.4 2951.6,257.5 2966.5,248.5C2981.3,239.5 3004.8,231.1 3018.4,226.7C3031.9,222.4 3043.1,223.2 3048.0,222.5L3077.7,222.5C3080.9,223.2 3087.1,222.7 3097.4,226.2C3107.7,229.7 3127.5,236.5 3139.4,243.5C3151.4,250.5 3161.2,260.0 3169.1,268.2C3176.9,276.5 3183.5,288.8 3186.4,292.9L3151.8,320.1L3127.8,321.4L3133.2,393.0L2982.5,393.0L2983.8,316.4L2909.6,321.4Z" fill="#f79e1b" stroke="#000" stroke-width="2.6" stroke-linecap="round" stroke-linejoin="round" />
<path d="M2983.8,316.4C2976.8,316.8 2954.5,317.7 2941.8,318.9C2929.0,320.1 2912.9,323.0 2907.2,323.8C2906.4,324.7 2903.6,325.7 2902.7,328.8C2901.9,331.9 2901.9,338.7 2902.2,342.4C2902.6,346.1 2904.3,349.6 2904.7,351.0C2910.9,350.1 2928.6,347.4 2941.8,345.3C2954.9,343.3 2976.8,339.8 2983.8,338.7L2983.8,316.4Z" fill="#f79e1b" stroke="#000" stroke-width="2.6" stroke-linecap="round" stroke-linejoin="round" />
<path d="M2904.7,334.9C2908.4,333.9 2919.5,330.6 2926.9,328.8C2934.4,326.9 2945.5,324.7 2949.2,323.8" fill="none" stroke="#000" stroke-width="2.6" stroke-linecap="round" stroke-linejoin="round" />
<path d="M2925.0,336.7C2929.8,335.5 2944.4,331.2 2954.1,329.5C2963.8,327.8 2978.4,326.8 2983.3,326.3" fill="none" stroke="#000" stroke-width="2.6" stroke-linecap="round" stroke-linejoin="round" />
<path d="M2907.2,351.5L2983.8,338.4L2983.8,346.1C2978.8,345.9 2966.9,344.4 2954.1,345.3C2941.4,346.2 2915.0,350.5 2907.2,351.5Z" fill="#000" stroke="#000" stroke-width="1" stroke-linecap="round" stroke-linejoin="round" />
<path d="M2985.3,292.9C2985.0,301.2 2984.2,325.7 2983.8,342.4C2983.3,359.0 2982.7,384.6 2982.5,393.0" fill="none" stroke="#000" stroke-width="2.6" stroke-linecap="round" stroke-linejoin="round" />
<path d="M3125.8,300.4C3126.4,307.4 3128.3,326.9 3129.5,342.4C3130.8,357.8 3132.6,384.6 3133.2,393.0" fill="none" stroke="#000" stroke-width="2.6" stroke-linecap="round" stroke-linejoin="round" />
<path d="M2976.8,276.9C2977.4,277.7 2978.9,280.3 2980.1,281.8C2981.2,283.4 2983.2,285.3 2983.8,286.0" fill="none" stroke="#000" stroke-width="2.6" stroke-linecap="round" stroke-linejoin="round" />
<path d="M2986.2,269.5C2986.9,270.7 2989.0,274.4 2989.9,276.9C2990.9,279.4 2991.8,283.1 2992.2,284.3" fill="none" stroke="#000" stroke-width="2.6" stroke-linecap="round" stroke-linejoin="round" />
<path d="M3123.6,274.4C3123.8,275.9 3124.7,280.4 3124.6,283.1C3124.5,285.7 3123.2,289.2 3122.9,290.5" fill="none" stroke="#000" stroke-width="2.6" stroke-linecap="round" stroke-linejoin="round" />
<path d="M3129.0,278.1C3129.0,279.4 3129.5,283.1 3129.0,285.5C3128.6,288.0 3127.0,291.7 3126.6,292.9" fill="none" stroke="#000" stroke-width="2.6" stroke-linecap="round" stroke-linejoin="round" />
<path d="M3061.6,238.1L3062.1,393.0" fill="none" stroke="#000" stroke-width="2.6" stroke-linecap="round" stroke-linejoin="round" />
<path d="M2982.5,392.5L3133.2,392.5L3133.7,404.1C3128.5,404.0 3115.8,404.1 3102.4,403.6C3088.9,403.1 3072.9,402.7 3052.9,401.2C3033.0,399.6 2994.3,395.4 2982.5,394.2Z" fill="#000" stroke="#000" stroke-width="1.5" stroke-linecap="round" stroke-linejoin="round" />
<path d="M3019.6,226.7L3046.8,257.1L3061.6,237.4L3076.4,257.1L3097.9,226.7L3077.7,222.5L3048.0,222.5L3019.6,226.7Z" fill="#f79e1b" stroke="#000" stroke-width="2.6" stroke-linecap="round" stroke-linejoin="round" />
<path d="M3046.8,257.1C3049.2,253.8 3056.7,237.4 3061.6,237.4C3066.5,237.4 3073.9,253.8 3076.4,257.1" fill="none" stroke="#000" stroke-width="2.6" stroke-linecap="round" stroke-linejoin="round" />
<path d="M3048.0,217.6L3048.7,227.5C3049.0,228.2 3049.1,230.7 3050.0,231.7C3050.9,232.6 3052.0,232.8 3054.2,233.2C3056.3,233.5 3059.9,233.9 3062.8,233.9C3065.7,233.9 3069.3,233.5 3071.5,233.2C3073.6,232.8 3074.8,232.6 3075.7,231.7C3076.6,230.7 3076.7,228.2 3076.9,227.5L3077.7,217.6Z" fill="#fff" stroke="#000" stroke-width="2.6" stroke-linecap="round" stroke-linejoin="round" />
<path d="M3048.0,218.3C3050.5,218.8 3057.9,221.3 3062.8,221.3C3067.8,221.3 3075.2,218.8 3077.7,218.3L3077.2,226.7C3074.8,226.6 3067.6,226.9 3062.8,225.7C3058.1,224.6 3050.9,221.0 3048.5,220.1Z" fill="#000" stroke="#000" stroke-width="1" stroke-linecap="round" stroke-linejoin="round" />
<circle cx="3029.5" cy="196.6" r="6.7" fill="#fff" stroke="#000" stroke-width="2.6"/>
<circle cx="3095.4" cy="197.1" r="6.7" fill="#fff" stroke="#000" stroke-width="2.6"/>
<path d="M3033.2,191.6C3031.3,196.8 3034.4,201.1 3036.9,205.2C3039.4,209.4 3043.7,213.9 3048.0,216.4C3052.3,218.8 3057.9,220.1 3062.8,220.1C3067.8,220.1 3073.3,218.8 3077.7,216.4C3082.0,213.9 3086.4,209.4 3088.8,205.2C3091.2,201.1 3093.8,196.8 3092.0,191.6C3090.1,186.5 3085.0,177.2 3077.7,174.4C3070.3,171.5 3055.4,171.5 3048.0,174.4C3040.6,177.2 3035.0,186.5 3033.2,191.6Z" fill="#fff" stroke="#000" stroke-width="2.6" stroke-linecap="round" stroke-linejoin="round" />
<circle cx="3049.5" cy="190.4" r="11.1" fill="#fff" stroke="#000" stroke-width="2.7"/>
<circle cx="3075.4" cy="190.4" r="11.1" fill="#fff" stroke="#000" stroke-width="2.7"/>
<path d="M3061.1,188.7C3061.4,188.4 3062.4,187.2 3063.1,187.2C3063.8,187.2 3064.9,188.4 3065.3,188.7" fill="none" stroke="#000" stroke-width="3" stroke-linecap="round" stroke-linejoin="round" />
<path d="M3049.5,191.6C3050.1,192.1 3051.6,194.4 3052.9,194.6C3054.3,194.8 3056.7,193.2 3057.4,192.9" fill="none" stroke="#000" stroke-width="2" stroke-linecap="round" stroke-linejoin="round" />
<path d="M3066.5,192.1C3067.2,192.6 3069.3,194.6 3070.7,194.6C3072.2,194.6 3074.4,192.6 3075.2,192.1" fill="none" stroke="#000" stroke-width="2" stroke-linecap="round" stroke-linejoin="round" />
<path d="M3058.4,202.8C3059.1,203.2 3061.3,205.3 3062.8,205.2C3064.3,205.2 3066.5,203.0 3067.3,202.5" fill="none" stroke="#000" stroke-width="2" stroke-linecap="round" stroke-linejoin="round" />
<path d="M3028.2,194.1C3028.7,194.5 3031.0,195.6 3031.2,196.6C3031.5,197.6 3030.0,199.7 3029.7,200.3" fill="none" stroke="#000" stroke-width="1.8" stroke-linecap="round" stroke-linejoin="round" />
<path d="M3094.5,194.1C3094.9,194.6 3096.8,196.1 3096.9,197.1C3097.0,198.1 3095.3,199.8 3094.9,200.3" fill="none" stroke="#000" stroke-width="1.8" stroke-linecap="round" stroke-linejoin="round" />
<path d="M3022.1,196.6C3021.0,195.6 3016.5,192.7 3015.4,190.4C3014.3,188.1 3014.4,184.9 3015.4,183.0C3016.4,181.1 3020.3,179.9 3021.3,179.3C3020.1,178.3 3015.0,175.6 3013.9,173.1C3012.8,170.6 3013.6,166.7 3014.7,164.5C3015.7,162.3 3018.4,160.8 3020.3,160.0C3022.3,159.3 3025.3,160.0 3026.3,160.0C3026.1,158.3 3024.3,153.1 3025.3,149.6C3026.2,146.2 3029.0,141.8 3031.9,139.3C3034.9,136.7 3039.2,134.7 3043.1,134.3C3047.0,133.9 3053.4,136.4 3055.4,136.8C3056.2,135.9 3058.1,132.2 3060.4,131.1C3062.6,130.0 3066.3,129.4 3069.0,130.4C3071.7,131.3 3075.2,135.7 3076.4,136.8C3078.7,136.6 3086.1,134.4 3090.0,135.3C3093.9,136.2 3097.9,139.4 3099.9,142.2C3101.9,145.0 3101.9,149.2 3101.9,152.1C3101.8,155.0 3099.8,158.3 3099.4,159.5C3100.9,160.6 3106.7,163.0 3108.5,165.7C3110.3,168.4 3110.7,172.4 3110.3,175.6C3109.9,178.8 3107.9,182.4 3106.1,184.7C3104.3,187.1 3100.5,188.8 3099.4,189.7C3098.2,188.8 3094.7,186.3 3092.5,184.7C3090.3,183.2 3088.8,181.4 3086.3,180.5C3083.8,179.6 3079.1,179.5 3077.7,179.3C3076.4,179.0 3072.5,176.9 3070.2,177.3C3068.0,177.7 3065.1,181.0 3064.1,181.8C3062.8,181.3 3059.3,179.2 3056.7,178.8C3054.0,178.4 3050.7,178.7 3048.0,179.3C3045.3,179.9 3042.7,180.6 3040.6,182.3C3038.5,183.9 3036.1,188.0 3035.2,189.2C3034.0,189.4 3030.4,189.2 3028.2,190.4C3026.1,191.6 3023.1,195.6 3022.1,196.6Z" fill="#f79e1b" stroke="#000" stroke-width="2.6" stroke-linecap="round" stroke-linejoin="round" />
<path d="M3090.0,170.6C3090.7,171.5 3093.7,173.5 3094.5,175.6C3095.2,177.6 3095.0,181.1 3094.5,183.0C3093.9,184.9 3091.8,186.5 3091.2,187.2" fill="none" stroke="#000" stroke-width="2.2" stroke-linecap="round" stroke-linejoin="round" />
<path d="M3043.1,180.5C3044.3,180.2 3048.6,178.6 3050.5,178.8C3052.3,179.0 3053.6,181.3 3054.2,181.8" fill="none" stroke="#000" stroke-width="2.2" stroke-linecap="round" stroke-linejoin="round" />
<path d="M3073.2,177.3C3073.9,177.9 3075.7,179.8 3077.7,180.5C3079.6,181.3 3083.8,181.6 3085.1,181.8" fill="none" stroke="#000" stroke-width="2.2" stroke-linecap="round" stroke-linejoin="round" />
<path d="M3252.8,181.1C3253.9,174.7 3255.7,168.6 3259.3,164.5C3262.8,160.3 3267.9,158.2 3274.1,156.1C3280.3,154.0 3284.0,153.4 3296.4,151.9C3308.7,150.3 3330.3,148.5 3348.2,146.9C3366.2,145.3 3391.5,143.1 3403.8,142.2C3416.2,141.4 3416.5,140.9 3422.4,141.9C3428.2,142.8 3434.7,144.6 3439.0,147.8C3443.4,150.9 3446.0,155.2 3448.3,160.8C3450.6,166.3 3451.5,172.5 3452.9,181.1C3454.3,189.8 3455.9,201.2 3456.6,212.6C3457.4,224.1 3457.7,241.1 3457.2,249.7C3456.7,258.4 3456.0,260.2 3453.9,264.5C3451.8,268.9 3448.9,272.7 3444.6,275.7C3440.3,278.6 3437.8,279.8 3427.9,282.1C3418.0,284.5 3398.6,287.4 3385.3,289.5C3372.0,291.7 3360.6,293.6 3348.2,295.1C3335.9,296.7 3321.1,298.2 3311.2,298.8C3301.3,299.4 3295.1,299.9 3288.9,298.8C3282.8,297.7 3278.1,295.6 3274.1,292.3C3270.1,289.1 3267.3,284.6 3264.9,279.4C3262.4,274.1 3260.8,268.9 3259.3,260.8C3257.8,252.8 3256.7,240.8 3255.6,231.2C3254.5,221.6 3253.3,211.7 3252.8,203.4C3252.3,195.0 3251.7,187.6 3252.8,181.1Z" fill="#fff" stroke="#000" stroke-width="6" stroke-linecap="round" stroke-linejoin="round" />
<path d="M3273.7,185.8C3273.6,187.2 3272.0,192.9 3272.6,194.1C3273.3,195.4 3276.3,194.1 3277.8,193.2C3279.3,192.3 3280.6,188.1 3281.5,188.6C3282.5,189.0 3282.1,195.2 3283.4,196.0C3284.6,196.7 3287.4,194.7 3288.9,193.2C3290.5,191.6 3291.4,186.6 3292.6,186.7C3293.9,186.9 3294.8,193.3 3296.4,194.1C3297.9,194.9 3300.2,193.0 3301.9,191.3C3303.6,189.6 3305.0,184.1 3306.5,183.9C3308.1,183.8 3309.5,189.6 3311.2,190.4C3312.9,191.2 3315.0,190.3 3316.7,188.9C3318.4,187.5 3319.8,182.1 3321.4,182.1C3322.9,182.0 3324.3,187.7 3326.0,188.6C3327.7,189.4 3329.7,188.3 3331.6,187.1C3333.4,185.8 3335.4,181.5 3337.1,181.1C3338.8,180.8 3339.9,184.4 3341.8,184.9C3343.6,185.3 3346.2,184.9 3348.2,183.9C3350.2,182.9 3351.9,179.7 3353.8,178.9C3355.7,178.2 3357.5,178.9 3359.4,179.3C3361.2,179.7 3363.2,180.4 3364.9,181.1C3366.6,181.9 3368.8,183.5 3369.5,183.9" fill="none" stroke="#000" stroke-width="6" stroke-linecap="round" stroke-linejoin="round" />
<circle cx="3383.1" cy="179.3" r="2.6" fill="#000" stroke="none"/>
<path d="M3393.6,177.8C3394.6,178.0 3397.5,178.6 3399.2,178.9C3400.9,179.2 3402.1,179.9 3403.8,179.7C3405.5,179.5 3407.4,178.5 3409.4,177.8C3411.4,177.1 3413.7,176.3 3415.9,175.6C3418.0,174.9 3420.2,174.1 3422.4,173.7C3424.5,173.4 3427.8,173.4 3428.8,173.4" fill="none" stroke="#000" stroke-width="5" stroke-linecap="round" stroke-linejoin="round" />
<rect x="3282.5" y="240.5" width="38.0" height="30.6" rx="7" ry="7" fill="#ffc70d" transform="rotate(-9 3301.5 255.8)"/>
<circle cx="3422.4" cy="256.6" r="10.2" fill="#eb001b" stroke="none"/>
<circle cx="3435.0" cy="253.8" r="10.2" fill="#f79e1b" fill-opacity="0.92"/>
<path d="M3130.0,363.4C3130.8,360.7 3130.9,353.7 3134.5,347.3C3138.1,340.9 3143.5,334.3 3151.8,325.1C3160.0,315.8 3176.1,298.8 3183.9,291.7C3191.7,284.6 3193.6,285.4 3198.5,282.6C3203.4,279.9 3208.4,276.7 3213.4,275.2C3218.3,273.7 3223.9,273.7 3228.2,273.7C3232.5,273.7 3236.2,274.2 3239.3,275.2C3242.4,276.2 3244.6,277.8 3246.7,279.6C3248.8,281.5 3250.8,283.8 3251.9,286.3C3253.0,288.8 3253.3,293.1 3253.5,294.5C3254.5,295.5 3258.1,298.4 3259.3,300.4C3260.5,302.4 3260.9,304.4 3260.9,306.3C3260.9,308.3 3260.0,310.7 3259.3,312.3C3258.7,313.9 3257.5,315.3 3257.1,316.0C3257.5,316.7 3259.2,318.7 3259.5,320.4C3259.7,322.1 3259.5,324.1 3258.6,326.3C3257.7,328.6 3255.6,331.8 3254.1,333.8C3252.6,335.7 3250.4,337.5 3249.7,338.2C3247.3,340.8 3240.0,348.5 3235.6,353.8C3231.1,359.1 3229.5,363.7 3223.0,370.0C3216.4,376.3 3206.1,386.6 3196.2,391.8C3186.4,396.9 3173.2,400.7 3164.1,400.9C3155.1,401.1 3147.4,397.0 3141.9,393.0C3136.3,389.0 3132.7,381.9 3130.8,376.9C3128.8,372.0 3130.2,365.6 3130.0,363.4Z" fill="#fff" stroke="#000" stroke-width="2.6" stroke-linecap="round" stroke-linejoin="round" />
<path d="M3239.3,276.7C3240.9,275.3 3244.7,278.7 3246.7,280.4C3248.7,282.1 3250.3,284.5 3251.2,287.1C3252.0,289.7 3252.4,293.4 3252.0,296.0C3251.7,298.5 3250.4,301.0 3248.9,302.6C3247.4,304.2 3244.9,305.5 3243.0,305.6C3241.1,305.7 3238.9,304.7 3237.8,303.4C3236.7,302.0 3236.5,299.9 3236.3,297.4C3236.2,295.0 3236.6,292.0 3237.1,288.5C3237.6,285.1 3237.7,278.0 3239.3,276.7Z" fill="#fff" stroke="#000" stroke-width="2.6" stroke-linecap="round" stroke-linejoin="round" />
<ellipse cx="3247.1" cy="293.4" rx="3.9" ry="6.8" transform="rotate(-8 3247.1 293.4)" fill="#fff" stroke="#000" stroke-width="2.6"/>
<path d="M3237.1,315.2C3237.2,313.6 3237.7,310.7 3239.3,309.3C3240.9,307.9 3244.2,307.0 3246.7,306.9C3249.2,306.8 3252.1,308.7 3254.1,308.6C3256.1,308.5 3257.9,305.5 3258.6,306.3C3259.2,307.2 3258.8,311.8 3257.8,313.7C3256.8,315.7 3255.0,317.1 3252.6,318.2C3250.3,319.3 3246.1,320.3 3243.7,320.4C3241.4,320.5 3239.7,319.8 3238.6,318.9C3237.4,318.1 3236.9,316.8 3237.1,315.2Z" fill="#fff" stroke="#000" stroke-width="2.6" stroke-linecap="round" stroke-linejoin="round" />
<ellipse cx="3245.2" cy="314.3" rx="6.5" ry="4.3" transform="rotate(-28 3245.2 314.3)" fill="#fff" stroke="#000" stroke-width="2.6"/>
<path d="M3235.2,332.3C3235.1,330.2 3236.1,326.7 3237.8,324.9C3239.5,323.0 3242.0,322.7 3245.2,321.3C3248.4,319.9 3254.9,315.7 3257.1,316.3C3259.3,316.9 3259.1,322.0 3258.6,324.9C3258.1,327.8 3256.1,331.5 3254.1,333.8C3252.1,336.0 3249.3,338.0 3246.7,338.6C3244.1,339.2 3240.5,338.5 3238.6,337.5C3236.6,336.4 3235.3,334.4 3235.2,332.3Z" fill="#fff" stroke="#000" stroke-width="2.6" stroke-linecap="round" stroke-linejoin="round" />
<ellipse cx="3243.7" cy="331.5" rx="6.5" ry="4.6" transform="rotate(-28 3243.7 331.5)" fill="#fff" stroke="#000" stroke-width="2.6"/>
<path d="M3231.9,285.6L3285.2,217.7" fill="none" stroke="#000" stroke-width="1.9" stroke-linecap="round" stroke-linejoin="round" />
<path d="M3214.8,276.5C3216.4,277.3 3221.6,279.4 3224.5,281.1C3227.3,282.9 3229.8,285.0 3231.9,287.1C3234.0,289.1 3236.2,291.6 3237.1,293.4C3237.9,295.1 3237.9,296.1 3237.1,297.4C3236.3,298.8 3234.4,300.9 3232.3,301.3C3230.2,301.7 3227.0,300.7 3224.5,299.8C3221.9,298.9 3218.9,297.3 3217.1,296.1C3215.2,294.9 3214.0,293.4 3213.4,292.8C3214.2,291.5 3218.3,287.6 3218.5,284.8C3218.8,282.1 3215.5,277.9 3214.8,276.5Z" fill="#fff" stroke="none" />
<path d="M3214.8,276.5C3216.4,277.3 3221.6,279.4 3224.5,281.1C3227.3,282.9 3229.8,285.0 3231.9,287.1C3234.0,289.1 3236.2,291.6 3237.1,293.4C3237.9,295.1 3237.9,296.1 3237.1,297.4C3236.3,298.8 3234.4,300.9 3232.3,301.3C3230.2,301.7 3227.0,300.7 3224.5,299.8C3221.9,298.9 3218.9,297.3 3217.1,296.1C3215.2,294.9 3214.0,293.4 3213.4,292.8" fill="none" stroke="#000" stroke-width="2.6" stroke-linecap="round" stroke-linejoin="round" />
<ellipse cx="3229.8" cy="291.9" rx="7.3" ry="4.4" transform="rotate(32 3229.8 291.9)" fill="#fff" stroke="#000" stroke-width="2.6"/>
<path d="M3205.6,317.1C3205.8,315.8 3205.8,311.8 3206.7,309.3C3207.6,306.8 3209.8,303.8 3211.1,301.9C3212.5,300.0 3214.2,298.5 3214.8,297.8C3215.6,298.4 3217.6,300.3 3219.3,301.1C3221.0,302.0 3223.9,302.5 3224.8,302.8C3224.3,303.9 3223.3,307.0 3221.5,309.3C3219.7,311.6 3216.3,314.7 3214.1,316.3C3211.9,317.9 3210.0,318.8 3208.5,318.9C3207.1,319.1 3206.1,317.4 3205.6,317.1Z" fill="#f79e1b" stroke="#000" stroke-width="2.6" stroke-linecap="round" stroke-linejoin="round" />
<path d="M3395.2,646.1C3392.7,653.5 3383.6,677.5 3380.2,690.6C3376.8,703.6 3375.6,715.6 3375.0,724.5C3374.3,733.5 3375.1,739.1 3376.3,744.1C3377.5,749.1 3379.8,754.6 3382.2,754.6C3384.6,754.6 3387.5,751.3 3390.7,744.1C3393.8,736.9 3397.5,726.3 3401.1,711.5C3404.7,696.7 3410.4,664.6 3412.2,655.3Z" fill="#fff" stroke="#000" stroke-width="2.1" stroke-linecap="round" stroke-linejoin="round" />
<path d="M3443.6,658.5C3442.7,665.2 3439.2,685.2 3438.4,698.4C3437.5,711.6 3437.6,726.7 3438.4,737.6C3439.1,748.5 3441.1,757.2 3442.9,763.7C3444.8,770.3 3447.3,776.8 3449.5,776.8C3451.6,776.8 3453.9,772.4 3456.0,763.7C3458.1,755.0 3460.9,742.0 3461.9,724.5C3462.9,707.1 3461.9,670.1 3461.9,659.2Z" fill="#fff" stroke="#000" stroke-width="2.1" stroke-linecap="round" stroke-linejoin="round" />
<path d="M3495.8,653.3C3497.3,660.8 3501.2,684.4 3504.3,698.4C3507.5,712.4 3511.1,727.8 3514.8,737.6C3518.5,747.4 3523.5,753.5 3526.6,757.2C3529.6,760.9 3531.5,760.6 3533.1,759.5C3534.7,758.5 3536.1,756.5 3536.4,750.7C3536.6,744.8 3536.5,735.4 3534.4,724.5C3532.3,713.6 3527.7,698.5 3523.9,685.3C3520.1,672.2 3513.6,652.1 3511.5,645.5Z" fill="#fff" stroke="#000" stroke-width="2.1" stroke-linecap="round" stroke-linejoin="round" />
<path d="M3495.0,582.5C3507.5,582.8 3507.8,585.6 3512.8,589.4C3517.7,593.2 3522.2,599.9 3524.6,605.2C3527.0,610.5 3528.0,615.4 3527.0,621.0C3526.0,626.6 3523.7,633.9 3518.7,638.8C3513.7,643.7 3507.2,647.6 3496.9,650.7C3486.7,653.7 3470.6,656.3 3457.4,657.0C3444.2,657.7 3427.4,656.3 3417.9,654.6C3408.3,652.9 3404.5,650.0 3400.1,646.7C3395.7,643.4 3391.5,641.4 3391.2,634.9C3390.9,628.3 3390.4,615.1 3398.1,607.2C3405.9,599.3 3421.5,591.5 3437.7,587.4C3453.8,583.3 3482.5,582.1 3495.0,582.5Z" fill="#fff" stroke="#000" stroke-width="2.1" stroke-linecap="round" stroke-linejoin="round" />
<path d="M3342.8,435.2C3342.0,432.6 3338.2,424.7 3337.8,419.4C3337.5,414.1 3338.0,408.2 3340.8,403.6C3343.6,399.0 3349.0,394.3 3354.6,391.7C3360.2,389.2 3368.5,387.9 3374.4,388.2C3380.3,388.5 3384.0,390.7 3390.2,393.7C3396.5,396.8 3404.1,403.1 3412.0,406.6C3419.9,410.0 3428.4,412.9 3437.7,414.5C3446.9,416.0 3456.7,415.9 3467.3,415.9C3477.9,415.9 3495.6,414.7 3501.3,414.5C3501.2,416.6 3501.6,423.2 3500.9,427.3C3500.2,431.4 3497.6,437.2 3496.9,439.2C3494.6,439.2 3493.0,438.5 3483.1,439.6C3473.2,440.6 3445.2,444.5 3437.7,445.5C3434.4,446.8 3424.5,452.4 3417.9,453.0C3411.3,453.6 3404.7,450.4 3398.1,449.1C3391.5,447.7 3381.7,445.8 3378.4,445.1L3342.8,435.2Z" fill="#000" stroke="#000" stroke-width="2" stroke-linecap="round" stroke-linejoin="round" />
<path d="M3437.7,445.5L3483.1,439.2C3486.4,441.5 3497.4,447.4 3502.9,453.0C3508.3,458.6 3513.4,466.8 3515.7,472.8C3518.1,478.7 3517.9,483.7 3517.1,488.6C3516.3,493.5 3514.1,499.0 3510.8,502.4C3507.4,505.9 3499.3,508.2 3496.9,509.3L3457.4,528.1L3417.9,488.6L3437.7,445.5Z" fill="#f79e1b" stroke="#000" stroke-width="2.1" stroke-linecap="round" stroke-linejoin="round" />
<path d="M3467.3,450.6L3482.1,448.7" fill="none" stroke="#000" stroke-width="2.2" stroke-linecap="round" stroke-linejoin="round" />
<path d="M3471.3,458.9L3486.1,456.0" fill="none" stroke="#000" stroke-width="2.2" stroke-linecap="round" stroke-linejoin="round" />
<path d="M3446.5,451.4C3447.4,454.3 3450.1,464.0 3451.9,468.8C3453.7,473.7 3456.0,476.7 3457.4,480.7C3458.9,484.6 3457.3,487.9 3460.6,492.5C3463.9,497.2 3472.1,501.4 3477.2,508.4C3482.3,515.3 3488.1,525.5 3491.0,534.1C3494.0,542.6 3494.3,552.2 3495.0,559.7C3495.6,567.3 3495.6,573.9 3495.0,579.5C3494.3,585.1 3493.3,589.4 3491.0,593.3C3488.7,597.3 3486.7,599.9 3481.1,603.2C3475.5,606.6 3468.0,609.8 3457.4,613.5C3446.9,617.2 3432.4,620.5 3417.9,625.4C3403.4,630.2 3378.4,639.9 3370.5,642.8L3350.7,567.7L3350.7,488.6L3417.9,455.0L3446.5,451.4Z" fill="#fff" stroke="none" />
<path d="M3446.5,451.4C3447.4,454.3 3450.1,464.0 3451.9,468.8C3453.7,473.7 3456.0,476.7 3457.4,480.7C3458.9,484.6 3457.3,487.9 3460.6,492.5C3463.9,497.2 3472.1,501.4 3477.2,508.4C3482.3,515.3 3488.1,525.5 3491.0,534.1C3494.0,542.6 3494.3,552.2 3495.0,559.7C3495.6,567.3 3495.6,573.9 3495.0,579.5C3494.3,585.1 3493.3,589.4 3491.0,593.3C3488.7,597.3 3486.7,599.9 3481.1,603.2C3475.5,606.6 3468.0,609.8 3457.4,613.5C3446.9,617.2 3432.4,620.5 3417.9,625.4C3403.4,630.2 3378.4,639.9 3370.5,642.8" fill="none" stroke="#000" stroke-width="2.1" stroke-linecap="round" stroke-linejoin="round" />
<path d="M3457.4,542.0C3460.4,542.2 3469.3,542.6 3475.2,543.1C3481.1,543.6 3490.0,544.6 3493.0,544.9" fill="none" stroke="#000" stroke-width="2" stroke-linecap="round" stroke-linejoin="round" />
<path d="M3491.0,498.9L3495.4,504.4L3456.4,540.4L3453.5,526.1L3491.0,498.9Z" fill="#f79e1b" stroke="#000" stroke-width="2.1" stroke-linecap="round" stroke-linejoin="round" />
<path d="M3439.6,448.1L3446.5,451.4C3443.7,455.0 3434.7,466.2 3429.7,472.8C3424.8,479.4 3419.0,487.9 3416.9,491.0L3413.9,472.8C3415.9,470.6 3421.5,464.0 3425.8,459.9C3430.1,455.8 3437.3,450.0 3439.6,448.1Z" fill="#f79e1b" stroke="#000" stroke-width="2.1" stroke-linecap="round" stroke-linejoin="round" />
<path d="M3368.5,557.4C3365.2,557.8 3356.9,557.4 3348.7,559.7C3340.5,562.1 3327.6,567.7 3319.1,571.6C3310.5,575.6 3302.3,579.2 3297.3,583.5C3292.4,587.7 3291.1,591.7 3289.4,597.3C3287.8,602.9 3287.7,608.9 3287.4,617.1C3287.2,625.2 3287.2,636.9 3288.1,646.1C3289.0,655.3 3290.4,662.5 3292.7,672.3C3295.0,682.1 3300.3,699.5 3301.8,704.9L3377.6,693.2L3369.1,642.0C3377.2,639.1 3403.2,629.8 3417.9,625.0C3432.6,620.2 3450.8,615.1 3457.4,613.1C3450.8,605.5 3432.7,576.9 3417.9,567.7C3403.1,558.4 3376.7,559.1 3368.5,557.4Z" fill="#fff" stroke="none" />
<path d="M3368.5,557.4C3365.2,557.8 3356.9,557.4 3348.7,559.7C3340.5,562.1 3327.6,567.7 3319.1,571.6C3310.5,575.6 3302.3,579.2 3297.3,583.5C3292.4,587.7 3291.1,591.7 3289.4,597.3C3287.8,602.9 3287.7,608.9 3287.4,617.1C3287.2,625.2 3287.2,636.9 3288.1,646.1C3289.0,655.3 3290.4,662.5 3292.7,672.3C3295.0,682.1 3300.3,699.5 3301.8,704.9" fill="none" stroke="#000" stroke-width="2" stroke-linecap="round" stroke-linejoin="round" />
<path d="M3378.2,693.2L3369.1,642.0" fill="none" stroke="#000" stroke-width="2" stroke-linecap="round" stroke-linejoin="round" />
<path d="M3394.2,564.7C3388.2,566.7 3368.8,572.1 3358.6,576.5C3348.4,581.0 3338.8,586.3 3332.9,591.4C3327.0,596.5 3324.7,601.3 3323.0,607.2C3321.3,613.1 3322.5,620.5 3322.6,626.9C3322.8,633.4 3322.9,638.6 3324.0,646.1C3325.1,653.7 3327.0,663.6 3329.3,672.3C3331.5,681.0 3336.3,694.0 3337.7,698.4" fill="none" stroke="#000" stroke-width="2" stroke-linecap="round" stroke-linejoin="round" />
<path d="M3328.9,568.6C3332.2,569.0 3342.5,568.5 3348.7,570.6C3355.0,572.8 3361.6,576.1 3366.5,581.5C3371.4,586.9 3375.1,595.7 3378.4,603.2C3381.7,610.8 3384.2,621.0 3386.3,626.9C3388.3,632.9 3389.9,637.2 3390.6,639.2" fill="none" stroke="#000" stroke-width="2" stroke-linecap="round" stroke-linejoin="round" />
<path d="M3369.1,642.0C3375.5,640.1 3394.7,634.8 3407.6,631.1C3420.6,627.4 3440.3,621.9 3446.8,620.0" fill="none" stroke="#000" stroke-width="3" stroke-linecap="round" stroke-linejoin="round" />
<path d="M3369.1,642.0C3377.2,639.2 3403.2,630.1 3417.9,625.4C3432.6,620.6 3446.9,617.2 3457.4,613.5C3468.0,609.8 3477.2,604.9 3481.1,603.2" fill="none" stroke="#000" stroke-width="2.1" stroke-linecap="round" stroke-linejoin="round" />
<path d="M3381.3,611.1C3382.1,613.8 3384.6,622.2 3386.3,626.9C3387.9,631.7 3390.2,637.7 3391.0,639.8" fill="none" stroke="#000" stroke-width="3" stroke-linecap="round" stroke-linejoin="round" />
<path d="M3284.2,740.9C3285.2,738.6 3287.5,732.0 3290.1,727.1C3292.6,722.2 3296.6,715.2 3299.2,711.5C3301.8,707.8 3304.6,706.0 3305.7,704.9C3309.0,703.8 3319.0,700.1 3325.3,698.4C3331.6,696.7 3340.6,695.1 3343.6,694.5L3346.2,697.1C3344.1,699.5 3338.2,706.0 3333.2,711.5C3328.2,716.9 3319.0,726.7 3316.2,729.8L3284.2,740.9Z" fill="#f79e1b" stroke="#000" stroke-width="2.1" stroke-linecap="round" stroke-linejoin="round" />
<path d="M3315.5,733.0C3316.7,730.5 3320.0,722.5 3322.7,718.0C3325.4,713.5 3328.8,709.3 3331.9,706.2C3334.9,703.2 3339.5,700.8 3341.0,699.7C3343.8,698.8 3351.9,695.8 3358.0,694.5C3364.1,693.1 3374.3,692.1 3377.6,691.6C3378.2,692.7 3380.4,694.8 3381.5,698.4C3382.6,702.0 3383.7,710.6 3384.1,713.0L3315.5,733.0Z" fill="#f79e1b" stroke="#000" stroke-width="2.1" stroke-linecap="round" stroke-linejoin="round" />
<ellipse cx="3291.4" cy="709.9" rx="6.5" ry="2.0" transform="rotate(42 3291.4 709.9)" fill="none" stroke="#000" stroke-width="1.8"/>
<ellipse cx="3296.6" cy="707.3" rx="6.8" ry="2.1" transform="rotate(-78 3296.6 707.3)" fill="none" stroke="#000" stroke-width="1.8"/>
<ellipse cx="3323.0" cy="708.6" rx="6.5" ry="2.0" transform="rotate(42 3323.0 708.6)" fill="none" stroke="#000" stroke-width="1.8"/>
<ellipse cx="3327.7" cy="705.7" rx="6.8" ry="2.1" transform="rotate(-78 3327.7 705.7)" fill="none" stroke="#000" stroke-width="1.8"/>
<path d="M3274.6,482.7C3274.8,485.3 3273.8,491.9 3275.6,498.5C3277.4,505.1 3281.2,515.1 3285.5,522.2C3289.7,529.3 3295.7,536.0 3301.3,541.0C3306.9,545.9 3312.1,549.1 3319.1,551.8C3326.0,554.6 3334.5,556.6 3342.8,557.4C3351.0,558.2 3364.2,556.9 3368.5,556.8L3358.6,462.9C3356.9,466.2 3351.0,477.2 3348.7,482.7C3346.4,488.1 3345.4,493.4 3344.8,495.5C3342.8,495.0 3336.2,493.7 3332.9,492.5C3329.6,491.4 3326.3,489.3 3325.0,488.6C3321.7,486.3 3313.6,475.7 3305.2,474.8C3296.8,473.8 3279.7,481.3 3274.6,482.7Z" fill="#fff" stroke="none" />
<path d="M3274.6,482.7C3274.8,485.3 3273.8,491.9 3275.6,498.5C3277.4,505.1 3281.2,515.1 3285.5,522.2C3289.7,529.3 3295.7,536.0 3301.3,541.0C3306.9,545.9 3312.1,549.1 3319.1,551.8C3326.0,554.6 3334.5,556.6 3342.8,557.4C3351.0,558.2 3364.2,556.9 3368.5,556.8" fill="none" stroke="#000" stroke-width="2" stroke-linecap="round" stroke-linejoin="round" />
<path d="M3325.4,489.0C3326.6,489.6 3329.7,491.5 3332.9,492.5C3336.1,493.6 3342.8,495.0 3344.8,495.5" fill="none" stroke="#000" stroke-width="2" stroke-linecap="round" stroke-linejoin="round" />
<path d="M3344.8,495.5C3345.4,493.4 3346.4,488.1 3348.7,482.7C3351.0,477.2 3356.9,466.2 3358.6,462.9" fill="none" stroke="#000" stroke-width="2" stroke-linecap="round" stroke-linejoin="round" />
<path d="M3285.9,522.2C3289.4,520.4 3300.6,516.5 3307.2,511.3C3313.8,506.1 3322.4,494.5 3325.4,491.2" fill="none" stroke="#000" stroke-width="2" stroke-linecap="round" stroke-linejoin="round" />
<path d="M3301.7,541.0C3304.6,538.0 3314.0,531.1 3319.1,523.2C3324.1,515.3 3329.9,498.6 3332.1,493.7" fill="none" stroke="#000" stroke-width="2" stroke-linecap="round" stroke-linejoin="round" />
<path d="M3264.1,447.1C3264.2,446.2 3263.8,443.0 3264.7,441.6C3265.6,440.1 3268.8,438.8 3269.6,438.2L3313.1,428.1C3314.1,428.0 3317.6,427.0 3319.1,427.7C3320.5,428.4 3321.5,431.5 3322.0,432.3L3329.9,462.9C3329.8,463.7 3330.2,466.7 3329.3,467.8C3328.5,469.0 3325.7,469.5 3325.0,469.8L3282.5,481.7C3281.5,481.7 3278.0,482.3 3276.6,481.7C3275.1,481.0 3274.4,478.4 3274.0,477.7L3264.1,447.1Z" fill="#fff" stroke="#000" stroke-width="2.4" stroke-linecap="round" stroke-linejoin="round" />
<path d="M3270.6,448.1C3271.0,448.6 3272.0,451.2 3272.6,451.0C3273.3,450.9 3273.8,447.2 3274.6,447.1C3275.3,446.9 3276.3,450.2 3277.2,450.0C3278.0,449.9 3278.7,446.3 3279.5,446.1C3280.3,445.9 3281.1,449.3 3281.9,449.1C3282.7,448.8 3283.6,445.0 3284.5,444.7C3285.3,444.4 3286.2,447.7 3287.0,447.5C3287.9,447.3 3288.6,443.8 3289.4,443.5C3290.2,443.3 3291.0,446.2 3291.8,446.1C3292.6,446.0 3293.4,443.2 3294.4,442.7C3295.3,442.3 3296.5,443.6 3297.3,443.5C3298.1,443.4 3299.0,442.4 3299.3,442.1" fill="none" stroke="#000" stroke-width="2.2" stroke-linecap="round" stroke-linejoin="round" />
<path d="M3306.2,440.2C3307.0,439.9 3309.3,439.2 3311.2,438.8C3313.0,438.4 3316.1,437.8 3317.1,437.6" fill="none" stroke="#000" stroke-width="2.2" stroke-linecap="round" stroke-linejoin="round" />
<circle cx="3303.6" cy="440.8" r="0.6" fill="#000" stroke="none"/>
<rect x="3276.3" y="463.3" width="12" height="9.5" rx="2.5" fill="#ffc70d" transform="rotate(-12 3282.3 468.0)"/>
<circle cx="3318.7" cy="462.3" r="2.8" fill="#eb001b" stroke="none"/>
<circle cx="3323.0" cy="461.3" r="2.8" fill="#f79e1b" stroke="none"/>
<path d="M3314.7,481.7C3313.5,481.1 3309.0,480.1 3307.2,478.3C3305.4,476.5 3303.5,473.2 3303.6,470.8C3303.8,468.4 3306.1,464.7 3308.2,463.7C3310.3,462.6 3313.6,463.3 3316.1,464.5C3318.6,465.7 3321.2,468.1 3323.0,470.8C3324.8,473.5 3326.6,477.6 3327.0,480.7C3327.4,483.8 3325.6,488.1 3325.4,489.6L3314.7,481.7Z" fill="#fff" stroke="none" />
<path d="M3314.7,481.7C3313.5,481.1 3309.0,480.1 3307.2,478.3C3305.4,476.5 3303.5,473.2 3303.6,470.8C3303.8,468.4 3306.1,464.7 3308.2,463.7C3310.3,462.6 3313.6,463.3 3316.1,464.5C3318.6,465.7 3321.2,468.1 3323.0,470.8C3324.8,473.5 3326.6,477.6 3327.0,480.7C3327.4,483.8 3325.6,488.1 3325.4,489.6" fill="none" stroke="#000" stroke-width="2.4" stroke-linecap="round" stroke-linejoin="round" />
<path d="M3352.7,412.5C3351.8,414.6 3349.4,421.6 3347.7,425.3C3346.1,429.1 3343.6,433.6 3342.8,435.2C3343.6,436.7 3345.4,441.6 3347.7,444.1C3350.0,446.6 3353.7,448.7 3356.6,450.0C3359.6,451.4 3364.0,451.7 3365.5,452.0C3367.7,450.0 3373.7,443.0 3378.4,440.2C3383.0,437.4 3390.7,436.0 3393.2,435.2C3391.4,432.6 3389.1,423.2 3382.3,419.4C3375.6,415.6 3357.6,413.6 3352.7,412.5Z" fill="#fff" stroke="#000" stroke-width="2" stroke-linecap="round" stroke-linejoin="round" />
<circle cx="3351.7" cy="429.3" r="2.2" fill="#000" stroke="none"/>
<circle cx="3360.4" cy="426.9" r="2.2" fill="#000" stroke="none"/>
<path d="M3349.1,425.3L3351.7,424.4" fill="none" stroke="#000" stroke-width="1.6" stroke-linecap="round" stroke-linejoin="round" />
<path d="M3358.2,423.0L3361.6,422.4" fill="none" stroke="#000" stroke-width="1.6" stroke-linecap="round" stroke-linejoin="round" />
<path d="M3355.6,429.3C3355.5,430.1 3355.0,432.8 3354.6,434.2C3354.3,435.7 3353.5,437.5 3353.7,438.2C3353.8,438.8 3355.3,438.2 3355.6,438.2" fill="none" stroke="#000" stroke-width="1.6" stroke-linecap="round" stroke-linejoin="round" />
<path d="M3354.0,443.1C3354.7,443.4 3356.9,444.8 3358.2,444.7C3359.5,444.6 3361.2,442.9 3361.8,442.5" fill="none" stroke="#000" stroke-width="1.8" stroke-linecap="round" stroke-linejoin="round" />
<path d="M3337.8,419.4C3338.3,416.8 3338.0,408.2 3340.8,403.6C3343.6,399.0 3349.0,394.3 3354.6,391.7C3360.2,389.2 3368.5,387.9 3374.4,388.2C3380.3,388.5 3384.0,390.7 3390.2,393.7C3396.5,396.8 3408.3,404.4 3412.0,406.6L3398.1,438.2C3397.5,436.7 3396.5,432.4 3394.2,429.3C3391.9,426.2 3388.6,421.6 3384.3,419.4C3380.0,417.3 3373.7,417.7 3368.5,416.4C3363.3,415.2 3355.6,412.7 3353.1,411.9C3352.2,414.3 3349.4,422.4 3347.7,426.3C3346.0,430.2 3343.6,433.7 3342.8,435.2L3337.8,419.4Z" fill="#000" stroke="#000" stroke-width="2" stroke-linecap="round" stroke-linejoin="round" />
<ellipse cx="3389.8" cy="420.4" rx="5.3" ry="8.3" transform="rotate(18 3389.8 420.4)" fill="#fff" stroke="#000" stroke-width="2.2"/>
<path d="M3389.2,417.4C3389.6,417.9 3391.1,419.2 3391.2,420.4C3391.3,421.6 3390.1,423.7 3389.8,424.4" fill="none" stroke="#000" stroke-width="1.6" stroke-linecap="round" stroke-linejoin="round" />
<path d="M3366.5,453.0C3368.5,451.1 3374.7,444.0 3378.4,441.6C3382.0,439.1 3385.9,438.2 3388.2,438.2C3390.5,438.2 3391.5,441.0 3392.2,441.6C3393.5,441.0 3397.5,437.9 3400.1,438.2C3402.7,438.5 3406.7,442.6 3408.0,443.5C3409.0,443.0 3412.0,439.5 3413.9,440.2C3415.9,440.8 3419.2,444.4 3419.9,447.5C3420.5,450.6 3418.8,454.7 3417.9,458.9C3417.0,463.2 3414.9,470.5 3414.3,472.8C3414.8,477.1 3415.3,490.9 3416.9,498.5C3418.5,506.1 3422.7,514.9 3423.8,518.2C3426.1,516.6 3431.6,512.6 3437.7,508.4C3443.7,504.1 3456.6,495.2 3460.4,492.5C3460.5,495.2 3461.8,501.8 3461.0,508.4C3460.2,514.9 3458.0,525.5 3455.4,532.1C3452.9,538.7 3450.2,543.1 3445.6,547.9C3440.9,552.7 3434.0,558.0 3427.8,560.7C3421.5,563.4 3415.6,564.9 3408.0,564.1C3400.4,563.3 3389.2,560.1 3382.3,555.8C3375.4,551.4 3370.5,544.3 3366.5,538.0C3362.5,531.7 3360.4,524.8 3358.6,518.2C3356.8,511.7 3355.9,505.4 3355.6,498.5C3355.4,491.6 3355.2,484.3 3357.0,476.7C3358.8,469.2 3364.9,457.0 3366.5,453.0Z" fill="#fff" stroke="none" />
<path d="M3366.5,453.0C3368.5,451.1 3374.7,444.0 3378.4,441.6C3382.0,439.1 3385.9,438.2 3388.2,438.2C3390.5,438.2 3391.5,441.0 3392.2,441.6C3393.5,441.0 3397.5,437.9 3400.1,438.2C3402.7,438.5 3406.7,442.6 3408.0,443.5C3409.0,443.0 3412.0,439.5 3413.9,440.2C3415.9,440.8 3419.2,444.4 3419.9,447.5C3420.5,450.6 3418.8,454.7 3417.9,458.9C3417.0,463.2 3414.9,470.5 3414.3,472.8C3414.8,477.1 3415.3,490.9 3416.9,498.5C3418.5,506.1 3422.7,514.9 3423.8,518.2" fill="none" stroke="#000" stroke-width="2.2" stroke-linecap="round" stroke-linejoin="round" />
<path d="M3460.4,492.5C3460.5,495.2 3461.8,501.8 3461.0,508.4C3460.2,514.9 3458.0,525.5 3455.4,532.1C3452.9,538.7 3450.2,543.1 3445.6,547.9C3440.9,552.7 3434.0,558.0 3427.8,560.7C3421.5,563.4 3415.6,564.9 3408.0,564.1C3400.4,563.3 3389.2,560.1 3382.3,555.8C3375.4,551.4 3370.5,544.3 3366.5,538.0C3362.5,531.7 3360.4,524.8 3358.6,518.2C3356.8,511.7 3355.9,505.4 3355.6,498.5C3355.4,491.6 3355.2,484.3 3357.0,476.7C3358.8,469.2 3364.9,457.0 3366.5,453.0" fill="none" stroke="#000" stroke-width="2.2" stroke-linecap="round" stroke-linejoin="round" />
<path d="M3459.8,492.5C3460.1,495.2 3462.3,501.6 3461.8,508.4C3461.2,515.1 3459.0,526.3 3456.4,533.1C3453.9,539.8 3451.2,544.2 3446.5,548.9C3441.9,553.6 3434.9,558.7 3428.8,561.3C3422.7,564.0 3413.1,564.1 3410.0,564.7C3412.9,563.4 3422.2,560.6 3427.8,556.8C3433.4,553.0 3439.1,548.1 3443.6,542.0C3448.0,535.9 3451.8,528.5 3454.5,520.2C3457.2,512.0 3458.9,497.2 3459.8,492.5Z" fill="#000" stroke="#000" stroke-width="1.5" stroke-linecap="round" stroke-linejoin="round" />
<path d="M3358.6,487.6C3363.2,486.6 3377.0,483.0 3386.3,481.7C3395.5,480.4 3409.3,480.0 3413.9,479.7" fill="none" stroke="#000" stroke-width="2" stroke-linecap="round" stroke-linejoin="round" />
<path d="M3359.6,516.3C3364.4,514.8 3378.7,509.7 3388.2,507.4C3397.8,505.0 3412.1,502.9 3416.9,502.0" fill="none" stroke="#000" stroke-width="2" stroke-linecap="round" stroke-linejoin="round" />
<path d="M3392.2,442.1C3391.6,444.0 3389.7,449.5 3388.6,453.0C3387.6,456.5 3386.3,461.6 3385.9,463.3" fill="none" stroke="#000" stroke-width="2" stroke-linecap="round" stroke-linejoin="round" />
<path d="M3408.0,444.7C3407.3,446.6 3405.0,452.3 3403.7,456.0C3402.3,459.7 3400.4,465.0 3399.7,466.8" fill="none" stroke="#000" stroke-width="2" stroke-linecap="round" stroke-linejoin="round" />
<path d="M3422.8,515.3C3423.5,515.0 3425.4,513.6 3426.8,513.9C3428.2,514.2 3430.6,516.7 3431.3,517.3" fill="none" stroke="#000" stroke-width="2" stroke-linecap="round" stroke-linejoin="round" />
</svg>
</div>
</body>
</html>
